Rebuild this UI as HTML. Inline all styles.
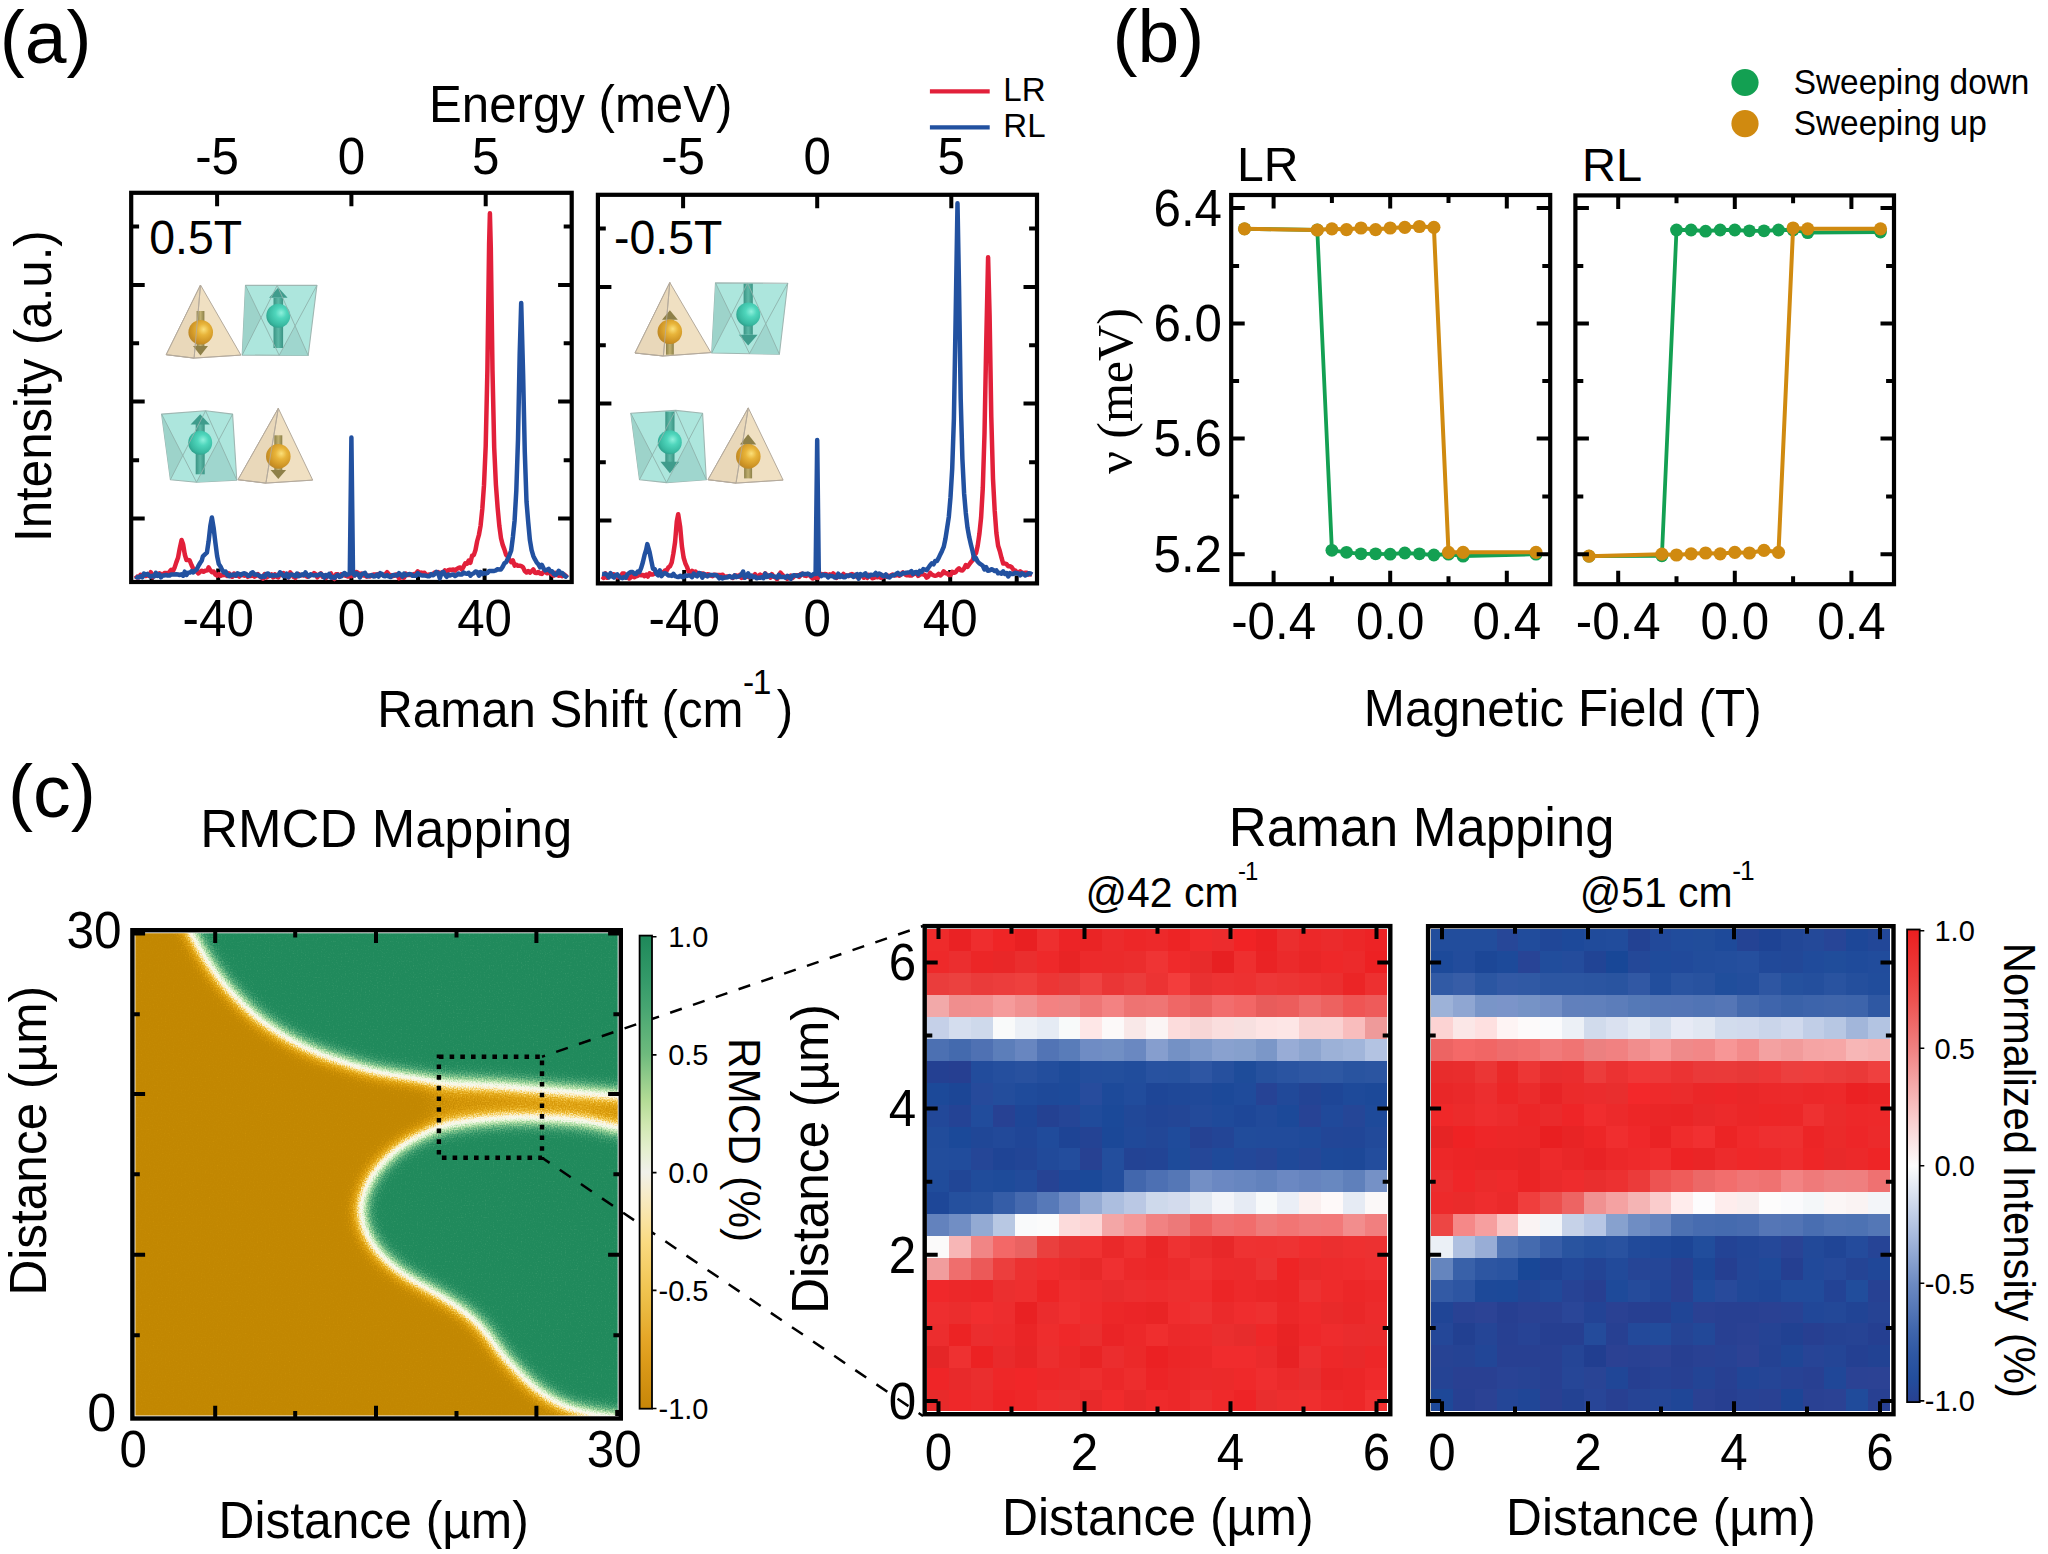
<!DOCTYPE html><html><head><meta charset="utf-8"><title>Figure</title>
<style>html,body{margin:0;padding:0;background:#fff;}svg{display:block;}text{font-family:"Liberation Sans", Arial, sans-serif;fill:#000;}</style></head><body>
<svg width="2048" height="1554" viewBox="0 0 2048 1554">
<rect width="2048" height="1554" fill="#fff"/>
<defs>
<radialGradient id="gGold" cx="0.6" cy="0.4" r="0.65" fx="0.62" fy="0.38"><stop offset="0" stop-color="#fbe07a"/><stop offset="0.35" stop-color="#e8b43a"/><stop offset="0.8" stop-color="#cc9224"/><stop offset="1" stop-color="#b8862a"/></radialGradient>
<radialGradient id="gTeal" cx="0.6" cy="0.4" r="0.65" fx="0.62" fy="0.38"><stop offset="0" stop-color="#8ef0dc"/><stop offset="0.35" stop-color="#4fd6bc"/><stop offset="0.8" stop-color="#38b8a0"/><stop offset="1" stop-color="#2e9e8a"/></radialGradient>
<linearGradient id="gShaftG" x1="0" y1="0" x2="1" y2="0"><stop offset="0" stop-color="#8c8048"/><stop offset="0.5" stop-color="#c0b070"/><stop offset="1" stop-color="#8c8048"/></linearGradient>
<linearGradient id="gShaftT" x1="0" y1="0" x2="1" y2="0"><stop offset="0" stop-color="#3a9484"/><stop offset="0.5" stop-color="#5cb8a6"/><stop offset="1" stop-color="#3a9484"/></linearGradient>
<linearGradient id="cbRMCD" x1="0" y1="0" x2="0" y2="1"><stop offset="0.000" stop-color="#1e885a"/><stop offset="0.050" stop-color="#2a9262"/><stop offset="0.100" stop-color="#369b6a"/><stop offset="0.150" stop-color="#46a571"/><stop offset="0.200" stop-color="#5ab077"/><stop offset="0.250" stop-color="#6eba7d"/><stop offset="0.300" stop-color="#91cb8a"/><stop offset="0.350" stop-color="#b4dc96"/><stop offset="0.400" stop-color="#d0e8b1"/><stop offset="0.450" stop-color="#e4efcd"/><stop offset="0.500" stop-color="#f0f0ea"/><stop offset="0.550" stop-color="#f7ebc6"/><stop offset="0.600" stop-color="#fae3a3"/><stop offset="0.650" stop-color="#fada80"/><stop offset="0.700" stop-color="#f5cf68"/><stop offset="0.750" stop-color="#f0c450"/><stop offset="0.800" stop-color="#eab63c"/><stop offset="0.850" stop-color="#e5a728"/><stop offset="0.900" stop-color="#dc9b1a"/><stop offset="0.950" stop-color="#d19011"/><stop offset="1.000" stop-color="#c68608"/></linearGradient>
<linearGradient id="cbRaman" x1="0" y1="0" x2="0" y2="1"><stop offset="0.000" stop-color="#ec1e20"/><stop offset="0.050" stop-color="#ec2e2e"/><stop offset="0.100" stop-color="#ec3e3d"/><stop offset="0.150" stop-color="#ed5250"/><stop offset="0.200" stop-color="#ee6968"/><stop offset="0.250" stop-color="#f08080"/><stop offset="0.300" stop-color="#f39a9a"/><stop offset="0.350" stop-color="#f6b3b3"/><stop offset="0.400" stop-color="#f9cccc"/><stop offset="0.450" stop-color="#fae4e4"/><stop offset="0.500" stop-color="#fcfcfc"/><stop offset="0.550" stop-color="#dfe6f2"/><stop offset="0.600" stop-color="#c2cfe7"/><stop offset="0.650" stop-color="#a6b8dc"/><stop offset="0.700" stop-color="#89a1cf"/><stop offset="0.750" stop-color="#6c8ac2"/><stop offset="0.800" stop-color="#5678b7"/><stop offset="0.850" stop-color="#3f65ac"/><stop offset="0.900" stop-color="#2e57a3"/><stop offset="0.950" stop-color="#234e9d"/><stop offset="1.000" stop-color="#284092"/></linearGradient>
<filter id="fRMCD" x="0" y="0" width="1" height="1" filterUnits="objectBoundingBox" color-interpolation-filters="sRGB"><feGaussianBlur in="SourceGraphic" stdDeviation="10" result="bl"/><feTurbulence type="fractalNoise" baseFrequency="0.75" numOctaves="1" seed="3" result="nz"/><feColorMatrix in="nz" type="matrix" values="1 0 0 0 0  1 0 0 0 0  1 0 0 0 0  0 0 0 0 1" result="nzr"/><feComposite in="bl" in2="nzr" operator="arithmetic" k1="0" k2="1" k3="0.3" k4="-0.15" result="mix"/><feComponentTransfer in="mix"><feFuncR type="table" tableValues="0.7608 0.7660 0.7713 0.7898 0.8126 0.8342 0.8546 0.8750 0.8954 0.9186 0.9431 0.9602 0.9733 0.9782 0.9804 0.9804 0.9725 0.9627 0.9137 0.8618 0.7882 0.7147 0.6358 0.5561 0.4804 0.4130 0.3456 0.2922 0.2431 0.1974 0.1647 0.1377 0.1255"/><feFuncG type="table" tableValues="0.5333 0.5368 0.5403 0.5545 0.5720 0.5910 0.6114 0.6368 0.6654 0.7078 0.7569 0.8133 0.8698 0.9139 0.9457 0.9677 0.9725 0.9759 0.9616 0.9452 0.9137 0.8822 0.8407 0.7978 0.7559 0.7161 0.6762 0.6434 0.6127 0.5842 0.5637 0.5473 0.5412"/><feFuncB type="table" tableValues="0.0078 0.0096 0.0113 0.0171 0.0241 0.0349 0.0492 0.0745 0.1072 0.1760 0.2618 0.4016 0.5569 0.7039 0.8180 0.9063 0.9176 0.9230 0.8618 0.8003 0.7373 0.6742 0.6262 0.5803 0.5402 0.5126 0.4850 0.4575 0.4299 0.4042 0.3858 0.3700 0.3608"/><feFuncA type="linear" slope="0" intercept="1"/></feComponentTransfer></filter>
<clipPath id="cpRMCD"><rect x="135.4" y="933.2" width="482.3" height="482.2"/></clipPath>
</defs>
<text transform="translate(-0.3 62.7) scale(1 0.980)" font-size="75.1">(a)</text>
<g stroke="#b4aa9c" stroke-width="1" stroke-linejoin="round">
<polygon points="200.5,285 166.2,354.7 194.1,358.1 240.9,355.1" fill="#f0e0c2"/>
<polygon points="200.5,285 166.2,354.7 194.1,358.1" fill="#e6d4b6" fill-opacity="0.7"/>
</g>
<rect x="196.6" y="311" width="7.8" height="35" fill="url(#gShaftG)"/>
<polygon points="193,346 208,346 200.5,355.5" fill="#8e8048"/>
<circle cx="200.7" cy="332.3" r="12.3" fill="url(#gGold)"/>
<path d="M200.5 285L194.1 358.1M166.2 354.7L194.1 358.1L240.9 355.1" stroke="#b4aa9c" stroke-width="1" fill="none" opacity="0.8"/>
<g stroke="#9fb7b2" stroke-width="1.1" stroke-linejoin="round">
<polygon points="245.5,285.4 316.9,285.4 308.2,355.5 242.2,355.1" fill="#ade6dd"/>
<polygon points="245.5,285.4 261,317.6 242.2,355.1" fill="#9dd3ca" stroke="none"/>
</g>
<polygon points="308.2,355.5 295.1,325.8 279.2,355.3" fill="#9fd6ce"/>
<rect x="273.5" y="298" width="9.6" height="50" fill="url(#gShaftT)"/>
<polygon points="269.1,297.8 287.6,297.8 278.3,287.6" fill="#3f9c8c"/>
<circle cx="278.3" cy="315.7" r="12" fill="url(#gTeal)"/>
<path d="M245.5 285.4L279.2 355.3M316.9 285.4L279.2 355.3M242.2 355.1L277.2 285.4M308.2 355.5L277.2 285.4" stroke="#8fb2ac" stroke-width="1" fill="none" opacity="0.9"/>
<g stroke="#9fb7b2" stroke-width="1.1" stroke-linejoin="round">
<polygon points="161.6,414.1 205.6,410.8 232.6,414.1 236.8,480.1 196.5,482.2 170.4,479.7" fill="#ade6dd"/>
<polygon points="161.6,414.1 182.8,455.4 170.4,479.7" fill="#9dd3ca" stroke="none"/>
</g>
<polygon points="236.8,480.1 218.8,440.1 196.5,482.2" fill="#9fd6ce"/>
<rect x="195.7" y="424" width="9" height="50.3" fill="url(#gShaftT)"/>
<polygon points="190.6,424.5 209.8,424.5 200.2,414.2" fill="#3f9c8c"/>
<circle cx="200.2" cy="442.7" r="12" fill="url(#gTeal)"/>
<path d="M161.6 414.1L196.5 482.2M232.6 414.1L196.5 482.2M170.4 479.7L205.6 410.8M236.8 480.1L205.6 410.8" stroke="#8fb2ac" stroke-width="1" fill="none" opacity="0.9"/>
<g stroke="#b4aa9c" stroke-width="1" stroke-linejoin="round">
<polygon points="278.3,408.3 238,479.7 265.9,483.1 312.7,480.1" fill="#f0e0c2"/>
<polygon points="278.3,408.3 238,479.7 265.9,483.1" fill="#e6d4b6" fill-opacity="0.7"/>
</g>
<rect x="274.3" y="435.3" width="8" height="34.8" fill="url(#gShaftG)"/>
<polygon points="270.6,470.1 286.1,470.1 278.3,479" fill="#8e8048"/>
<circle cx="278.3" cy="456.4" r="12.3" fill="url(#gGold)"/>
<path d="M278.3 408.3L265.9 483.1M238 479.7L265.9 483.1L312.7 480.1" stroke="#b4aa9c" stroke-width="1" fill="none" opacity="0.8"/>
<g stroke="#b4aa9c" stroke-width="1" stroke-linejoin="round">
<polygon points="669.8,282.5 635,353 663.4,356 710.9,352.6" fill="#f0e0c2"/>
<polygon points="669.8,282.5 635,353 663.4,356" fill="#e6d4b6" fill-opacity="0.7"/>
</g>
<rect x="666" y="319.8" width="7.8" height="34.9" fill="url(#gShaftG)"/>
<polygon points="662,319.8 677.8,319.8 669.9,310.2" fill="#8e8048"/>
<circle cx="669.8" cy="331.8" r="12.3" fill="url(#gGold)"/>
<path d="M669.8 282.5L663.4 356M635 353L663.4 356L710.9 352.6" stroke="#b4aa9c" stroke-width="1" fill="none" opacity="0.8"/>
<g stroke="#9fb7b2" stroke-width="1.1" stroke-linejoin="round">
<polygon points="715.5,282.9 787.7,283.3 779.4,354.3 711.7,353" fill="#ade6dd"/>
<polygon points="715.5,282.9 731.1,315.3 711.7,353" fill="#9dd3ca" stroke="none"/>
</g>
<polygon points="779.4,354.3 765.8,323.8 749.5,353.6" fill="#9fd6ce"/>
<rect x="743.6" y="283.7" width="9.2" height="51" fill="url(#gShaftT)"/>
<polygon points="738.9,334.7 757.6,334.7 748.2,345.6" fill="#3f9c8c"/>
<circle cx="748.3" cy="314.4" r="12" fill="url(#gTeal)"/>
<path d="M715.5 282.9L749.5 353.6M787.7 283.3L749.5 353.6M711.7 353L747.6 283.1M779.4 354.3L747.6 283.1" stroke="#8fb2ac" stroke-width="1" fill="none" opacity="0.9"/>
<g stroke="#9fb7b2" stroke-width="1.1" stroke-linejoin="round">
<polygon points="630.8,413.3 675.6,410.4 702.6,413.3 706.3,479.7 666.5,482.6 639.5,479.7" fill="#ade6dd"/>
<polygon points="630.8,413.3 652.3,455.1 639.5,479.7" fill="#9dd3ca" stroke="none"/>
</g>
<polygon points="706.3,479.7 688.7,440 666.5,482.6" fill="#9fd6ce"/>
<rect x="665.3" y="411.6" width="9.2" height="50.7" fill="url(#gShaftT)"/>
<polygon points="660.5,461.8 679.2,461.8 669.9,473.2" fill="#3f9c8c"/>
<circle cx="669.8" cy="442.3" r="12" fill="url(#gTeal)"/>
<path d="M630.8 413.3L666.5 482.6M702.6 413.3L666.5 482.6M639.5 479.7L675.6 410.4M706.3 479.7L675.6 410.4" stroke="#8fb2ac" stroke-width="1" fill="none" opacity="0.9"/>
<g stroke="#b4aa9c" stroke-width="1" stroke-linejoin="round">
<polygon points="748.3,407.9 708,479.7 736,483.1 783.1,480.1" fill="#f0e0c2"/>
<polygon points="748.3,407.9 708,479.7 736,483.1" fill="#e6d4b6" fill-opacity="0.7"/>
</g>
<rect x="744.1" y="444.4" width="8" height="34" fill="url(#gShaftG)"/>
<polygon points="740,444.4 756.2,444.4 748.1,434.3" fill="#8e8048"/>
<circle cx="748.3" cy="456.4" r="12.3" fill="url(#gGold)"/>
<path d="M748.3 407.9L736 483.1M708 479.7L736 483.1L783.1 480.1" stroke="#b4aa9c" stroke-width="1" fill="none" opacity="0.8"/>
<rect x="131.2" y="192.8" width="440.5" height="389.2" fill="none" stroke="#000" stroke-width="4.2"/>
<path d="M218.2 582V568.5M351.4 582V568.5M484.6 582V568.5M151.6 582V574.1M284.8 582V574.1M418 582V574.1M551.2 582V574.1M131.2 285H144.7M571.6 285H558.1M131.2 401.6H144.7M571.6 401.6H558.1M131.2 518.4H144.7M571.6 518.4H558.1M131.2 226.5H139.1M571.6 226.5H563.7M131.2 343.2H139.1M571.6 343.2H563.7M131.2 460.3H139.1M571.6 460.3H563.7" stroke="#000" stroke-width="4.0" fill="none"/>
<path d="M217.1 192.8V206.3M351.4 192.8V206.3M485.7 192.8V206.3" stroke="#000" stroke-width="4.0" fill="none"/>
<text transform="translate(218.2 636.2) scale(1 1.041)" font-size="49.3" text-anchor="middle">-40</text>
<text transform="translate(351.4 636.2) scale(1 1.041)" font-size="49.3" text-anchor="middle">0</text>
<text transform="translate(484.6 636.2) scale(1 1.041)" font-size="49.3" text-anchor="middle">40</text>
<text transform="translate(217.1 174.3) scale(1 1.041)" font-size="49.3" text-anchor="middle">-5</text>
<text transform="translate(351.4 174.3) scale(1 1.041)" font-size="49.3" text-anchor="middle">0</text>
<text transform="translate(485.7 174.3) scale(1 1.041)" font-size="49.3" text-anchor="middle">5</text>
<rect x="597.9" y="194.8" width="439.1" height="388.6" fill="none" stroke="#000" stroke-width="4.2"/>
<path d="M684.2 583.4V569.9M817.2 583.4V569.9M950.2 583.4V569.9M617.7 583.4V575.5M750.7 583.4V575.5M883.7 583.4V575.5M1016.7 583.4V575.5M597.9 287H611.4M1037 287H1023.5M597.9 403.6H611.4M1037 403.6H1023.5M597.9 520.4H611.4M1037 520.4H1023.5M597.9 228.5H605.8M1037 228.5H1029.1M597.9 345.2H605.8M1037 345.2H1029.1M597.9 462.3H605.8M1037 462.3H1029.1" stroke="#000" stroke-width="4.0" fill="none"/>
<path d="M683.1 194.8V208.3M817.2 194.8V208.3M951.3 194.8V208.3" stroke="#000" stroke-width="4.0" fill="none"/>
<text transform="translate(684.2 636.2) scale(1 1.041)" font-size="49.3" text-anchor="middle">-40</text>
<text transform="translate(817.2 636.2) scale(1 1.041)" font-size="49.3" text-anchor="middle">0</text>
<text transform="translate(950.2 636.2) scale(1 1.041)" font-size="49.3" text-anchor="middle">40</text>
<text transform="translate(683.1 174.3) scale(1 1.041)" font-size="49.3" text-anchor="middle">-5</text>
<text transform="translate(817.2 174.3) scale(1 1.041)" font-size="49.3" text-anchor="middle">0</text>
<text transform="translate(951.3 174.3) scale(1 1.041)" font-size="49.3" text-anchor="middle">5</text>
<path d="M135.5 575.4 137.2 577.5 138.9 577.4 140.6 574.7 142.3 575.5 144 574.7 145.7 576 147.4 575 149.1 575.9 150.8 572.2 152.5 577.2 154.2 574.5 155.9 575.6 157.6 574.5 159.3 573.3 161 574.1 162.7 574.7 164.4 573.1 166.1 573 167.8 574.1 169.5 571.7 171.2 569.8 172.9 571.2 174.6 567.6 176.3 562.4 178 557.8 179.7 548.7 181.6 540 183.1 544.2 184.8 554.5 186.5 560.1 188.2 560.1 189.6 560.2 191.6 565.3 193.3 568.8 195 569.7 196.7 571.6 198.4 573.4 200.1 571.8 201.8 570.7 203.5 571.7 205.2 570.7 207.5 570.3 208.6 567.4 210.3 570.3 212 572.3 213.7 571.6 215.4 574.6 217.1 575.7 218.8 574.1 220.5 575.8 222.2 575.2 223.9 575.1 225.6 574.9 227.3 576 229 573.3 230.7 576.2 232.4 576.8 234.1 573.5 235.8 575.8 237.5 575.1 239.2 576.5 240.9 574.4 242.6 575.2 244.3 575.7 246 574.1 247.7 576.8 249.4 575.9 251.1 576 252.8 574.8 254.5 576.7 256.2 575.6 257.9 574.2 259.6 576.4 261.3 577.5 263 578.7 264.7 574 266.4 577.4 268.1 576.5 269.8 575.8 271.5 574.5 273.2 577.4 274.9 574.3 276.6 576.7 278.3 577.4 280 573.2 281.7 574.9 283.4 573.1 285.1 574.4 286.8 576.4 288.5 577.4 290.2 572.4 291.9 574.4 293.6 576.9 295.3 577.9 297 575.6 298.7 574.1 300.4 575.3 302.1 575.2 303.8 575.3 305.5 575.5 307.2 576.8 308.9 576 310.6 575.2 312.3 574.6 314 573.1 315.7 574.4 317.4 577.3 319.1 574.9 320.8 573.3 322.5 576.7 324.2 575.7 325.9 577.9 327.6 575.5 329.3 574.7 331 573.5 332.7 577.3 334.4 579 336.1 574.3 337.8 574.3 339.5 576.4 341.2 574.3 342.9 575.2 344.6 575.3 346.3 576 348 576.6 349.7 575.2 351.4 576.2 353.1 574.5 354.8 575.3 356.5 572 358.2 572.9 359.9 576.2 361.6 573.6 363.3 575.6 365 575.6 366.7 576.7 368.4 575.5 370.1 576.4 371.8 575.2 373.5 574.6 375.2 574.5 376.9 575 378.6 573.9 380.3 574.4 382 574.9 383.7 575 385.4 574.1 387.1 572.1 388.8 574.6 390.5 575 392.2 576.2 393.9 575.9 395.6 574.5 397.3 574.5 399 578.3 400.7 576.7 402.4 577.6 404.1 577.7 405.8 573.6 407.5 575.1 409.2 574.8 410.9 575 412.6 574.7 414.3 574 416 573.6 417.7 571.3 419.4 573.1 421.1 572.5 422.8 573.2 424.5 572.8 426.2 575 427.9 574.8 429.6 574.5 431.3 574.6 433 573.9 434.7 572.5 436.4 572.7 438.1 572 439.8 573.3 441.5 572.6 443.2 573.1 444.9 570.3 446.6 572.6 448.3 570.2 450 569.7 451.7 570 453.4 569.5 455.1 570.6 456.8 568.9 458.5 568 460.2 567.5 461.9 569.6 463.6 566.6 465.3 563.3 467 563.8 468.7 560.5 470.4 562.8 472.1 555.7 473.8 555.1 475.5 550 477.2 541 478.9 535 480.6 525.6 482.3 509 484 485.2 485.7 446.2 487.4 369.6 489.1 244.6 489.9 213.3 490.8 247.9 492.5 370.6 494.2 447.6 495.9 484.6 497.6 507.4 499.3 525.6 501 538.2 502.7 544.9 504.4 549.4 506.1 554.9 507.8 556.5 509.5 559.8 511.2 562 512.9 560.5 514.6 565.6 516.3 564.7 518 565.8 519.7 565.7 521.4 566.2 523.1 567.4 524.8 571.1 526.5 572.5 528.2 571 529.9 572.6 531.6 571.3 533.3 569.4 535 572.7 536.7 573.1 538.4 572 540.1 573.5 541.8 573.9 543.5 572 545.2 571.5 546.9 573.3 548.6 573 550.3 572.5 552 574.6 553.7 575.7 555.4 572.9 557.1 574.9 558.8 575.7 560.5 575.4 562.2 576.1 563.9 574.3 565.6 575.7 567.3 577.3" fill="none" stroke="#e2203a" stroke-width="4.5" stroke-linejoin="round"/>
<path d="M135.5 576.3 137.2 577.5 138.9 577.2 140.6 576.3 142.3 577.4 144 573.5 145.7 574.8 147.4 573.9 149.1 575.5 150.8 576.8 152.5 575.7 154.2 576.4 155.9 572.8 157.6 575.8 159.3 574.3 161 577.4 162.7 575.4 164.4 575.4 166.1 574.9 167.8 575.6 169.5 575.6 171.2 574.4 172.9 574.4 174.6 574.5 176.3 574.2 178 574.5 179.7 575 181.4 574.3 183.1 575.7 184.8 571.7 186.5 575 188.2 572.7 189.9 572.6 191.6 571.1 193.3 572.4 195 570.7 196.7 569.5 198.4 565.9 200.1 563 201.8 560.5 202.9 556.3 205.2 554.1 206.9 552.6 208.6 541.4 210.3 526.2 211.9 517.5 213.7 528.4 215.4 542.8 217.1 556 218.8 564 220.5 566.5 222.2 570.1 223.9 572.4 225.6 571.6 227.3 574.9 229 576.1 230.7 574.8 232.4 575.2 234.1 574.6 235.8 575.7 237.5 573.4 239.2 574.1 240.9 575.1 242.6 573.6 244.3 573.3 246 574.1 247.7 575.7 249.4 575.8 251.1 573.3 252.8 572.3 254.5 574.5 256.2 574.5 257.9 574.9 259.6 576 261.3 577.2 263 575.8 264.7 576.7 266.4 574 268.1 573.5 269.8 575.7 271.5 575.5 273.2 575.3 274.9 575.4 276.6 575.6 278.3 575.3 280 572.3 281.7 574.1 283.4 576 285.1 576.3 286.8 573.6 288.5 577.3 290.2 574.8 291.9 574.6 293.6 575.2 295.3 576.2 297 573.5 298.7 576.2 300.4 575.4 302.1 574.3 303.8 575.1 305.5 572.3 307.2 575.1 308.9 576.4 310.6 574.4 312.3 575.1 314 575.4 315.7 575.1 317.4 575.4 319.1 574.7 320.8 573.8 322.5 575.1 324.2 577.6 325.9 575 327.6 576.3 329.3 573.8 331 577.6 332.7 576.9 334.4 577.9 336.1 576 337.8 574.8 339.5 576.9 341.2 576.4 342.9 574.1 344.6 573 346.3 575.1 348 574.4 349.8 573.5 351.4 437.5 353 573.5 354.8 575.4 356.5 573.3 358.2 574.2 359.9 577.5 361.6 574.5 363.3 573.6 365 572.9 366.7 575.8 368.4 576.2 370.1 575.5 371.8 575.1 373.5 576.4 375.2 576.2 376.9 574.6 378.6 576.6 380.3 573.2 382 574.1 383.7 576 385.4 576.3 387.1 575 388.8 576.5 390.5 577.1 392.2 575.5 393.9 575 395.6 575.4 397.3 575.4 399 573.2 400.7 574.7 402.4 576.5 404.1 573.6 405.8 575.3 407.5 574.7 409.2 574.1 410.9 574.2 412.6 575.7 414.3 575.7 416 575.7 417.7 573.2 419.4 574.6 421.1 575.2 422.8 575.6 424.5 575.6 426.2 575.7 427.9 576.3 429.6 576.2 431.3 574.1 433 575.3 434.7 574.2 436.4 571.9 438.1 573 439.8 578.2 441.5 573.3 443.2 571.8 444.9 574.4 446.6 576.8 448.3 574.5 450 575.5 451.7 574.7 453.4 574.4 455.1 576 456.8 575.1 458.5 573.5 460.2 574.6 461.9 574.4 463.6 572.6 465.3 573.5 467 573.7 468.7 572.8 470.4 575.7 472.1 574 473.8 573.2 475.5 571.5 477.2 571.9 478.9 575.7 480.6 572 482.3 574.2 484 573 485.7 573.6 487.4 573 489.1 571 490.8 571 492.5 571 494.2 571 495.9 570.4 497.6 569.2 499.3 569.6 501 569.4 502.7 566.7 504.4 563.2 506.1 562.3 507.8 558.8 509.5 555.1 511.2 550.4 512.9 537.1 514.6 520.5 516.3 490.9 518 439.5 519.7 353.6 521.2 302.9 523.1 374.1 524.8 452.4 526.5 501.5 528.2 522 529.9 540.2 531.6 550.1 533.3 555.9 535 559.4 536.7 562.4 538.4 564.3 540.1 567.3 541.8 564.8 543.5 568.3 545.2 570.4 546.9 569.9 548.6 568.8 550.3 571.4 552 571.2 553.7 573.8 555.4 575 557.1 573.5 558.8 570.8 560.5 573.4 562.2 572.9 563.9 575.1 565.6 576.7 567.3 574.9" fill="none" stroke="#2251a0" stroke-width="4.5" stroke-linejoin="round"/>
<path d="M602 576.5 603.7 577.9 605.4 573.4 607.1 577.8 608.8 575.5 610.5 574.5 612.2 574.6 613.9 574.3 615.6 575.7 617.3 577.2 619 576.9 620.7 577 622.4 573.6 624.1 573.6 625.8 577.6 627.5 576.9 629.2 578.5 630.9 577.4 632.6 574.4 634.3 577.2 636 576.3 637.7 575.8 639.4 574.3 641.1 575.2 642.8 574.9 644.5 576.2 646.2 574.6 647.9 576.5 649.6 573.3 651.3 574.6 653 574.5 654.7 573.2 656.4 572.5 658.1 574.5 659.8 574.2 661.5 572.7 663.2 572.9 664.9 570.5 666.6 570.8 668.3 567.6 670 566.2 671.7 562.6 673.4 553.4 675.1 541.9 676.8 521.4 678.2 514.3 680.2 527.2 681.9 546.1 683.6 557.5 685.3 563.2 687 566.9 688.7 571.5 690.4 573.1 692.1 570.9 693.8 574.9 695.5 571.5 697.2 573.3 698.9 574.1 700.6 574.5 702.3 573.6 704 573.8 705.7 575.1 707.4 574.2 709.1 574.5 710.8 575.7 712.5 576.2 714.2 574.6 715.9 574.9 717.6 575 719.3 574.9 721 575.2 722.7 574.7 724.4 577.5 726.1 576.6 727.8 576.4 729.5 576.4 731.2 577 732.9 578 734.6 575.5 736.3 575.4 738 576.7 739.7 575 741.4 577.9 743.1 577.5 744.8 577.1 746.5 575.7 748.2 576.9 749.9 577.2 751.6 576.7 753.3 576.1 755 574.2 756.7 577.7 758.4 575.8 760.1 574.6 761.8 576.3 763.5 575.7 765.2 573.4 766.9 575.4 768.6 575.6 770.3 577.7 772 574.2 773.7 576.7 775.4 577.4 777.1 579.2 778.8 575.5 780.5 572.6 782.2 574.6 783.9 576.5 785.6 577.3 787.3 578.9 789 577.4 790.7 575.7 792.4 577.9 794.1 576.5 795.8 575.2 797.5 575.2 799.2 576.9 800.9 573.9 802.6 573.7 804.3 575.5 806 575.9 807.7 575 809.4 575 811.1 576.9 812.8 578.5 814.5 577.5 816.2 577.5 817.9 578 819.6 573.8 821.3 574 823 574.7 824.7 574 826.4 574.3 828.1 575.6 829.8 574.3 831.5 575.5 833.2 573.4 834.9 574.9 836.6 577.8 838.3 574.9 840 576 841.7 575.9 843.4 574 845.1 575.6 846.8 575.5 848.5 576.1 850.2 574.7 851.9 574.1 853.6 574.8 855.3 575 857 577 858.7 576.3 860.4 575.3 862.1 575.8 863.8 577.7 865.5 575.3 867.2 577.8 868.9 574.9 870.6 576 872.3 578.2 874 577.9 875.7 576.3 877.4 577.3 879.1 576.2 880.8 577.7 882.5 577.3 884.2 575.5 885.9 576.8 887.6 575.6 889.3 576.3 891 575.4 892.7 574.6 894.4 575.5 896.1 575.3 897.8 574.7 899.5 575.7 901.2 573.9 902.9 572.4 904.6 573.9 906.3 575.2 908 575.1 909.7 575.5 911.4 575.6 913.1 574.3 914.8 573.8 916.5 572.7 918.2 575.8 919.9 574.6 921.6 573.8 923.3 574.4 925 575.1 926.7 577.7 928.4 576.4 930.1 572.8 931.8 574.5 933.5 575.3 935.2 575.8 936.9 575.4 938.6 573.8 940.3 575.5 942 574 943.7 571.3 945.4 573.2 947.1 573.2 948.8 575.1 950.5 575.1 952.2 571.8 953.9 572.7 955.6 572.3 957.3 569.7 959 568.4 960.7 570.2 962.4 570.4 964.1 568.5 965.8 565.1 967.5 566.8 969.2 564.5 970.9 562.1 972.6 560.3 974.3 555.3 976 553.2 977.7 545.7 979.4 533.9 981.1 517.6 982.8 488 984.5 434 986.2 344.5 988.1 257.3 989.6 315.9 991.3 417.4 993 478.9 994.7 510.7 996.4 533.1 998.1 545.7 999.8 551 1001.5 557.7 1003.2 563.6 1004.9 563.5 1006.6 564.2 1008.3 566.2 1010 566.3 1011.7 567.3 1013.4 569.8 1015.1 570.3 1016.8 572 1018.5 572.7 1020.2 571.4 1021.9 572.6 1023.6 573.1 1025.3 572.8 1027 572.8 1028.7 574.5 1030.4 574.1 1032.1 574.5" fill="none" stroke="#e2203a" stroke-width="4.5" stroke-linejoin="round"/>
<path d="M602 573.9 603.7 574.1 605.4 573.7 607.1 575 608.8 577.4 610.5 573.1 612.2 576.3 613.9 577.5 615.6 575 617.3 574.4 619 576.4 620.7 577.7 622.4 578.2 624.1 576.9 625.8 577.6 627.5 574.3 629.2 573 630.9 572 632.6 572.1 634.3 573.7 636 574 637.7 571.5 639.4 572.2 641.1 568.2 642.8 562.5 644.5 555.2 646.2 549.6 647.3 544.1 649.6 552.2 651.3 560.6 653 568.9 654.7 568.9 656.4 573.8 658.1 575.3 659.8 570.4 661.5 576.1 663.2 574 664.9 573.1 666.6 573.8 668.3 575.5 670 575.4 671.7 575.9 673.4 573.8 675.1 576.2 676.8 576.7 678.5 577.1 680.2 575.7 681.9 576.9 683.6 577.1 685.3 575.4 687 575.9 688.7 575.4 690.4 575.8 692.1 577.1 693.8 573.6 695.5 575.3 697.2 576.4 698.9 573 700.6 573.5 702.3 577.7 704 574.2 705.7 575.3 707.4 576.4 709.1 575.2 710.8 574.9 712.5 575.1 714.2 575.3 715.9 574.9 717.6 576.2 719.3 578.3 721 577 722.7 578.5 724.4 577.3 726.1 577.6 727.8 577.2 729.5 576 731.2 577.2 732.9 577.5 734.6 575.4 736.3 577.2 738 576.7 739.7 576.2 741.4 574.6 743.1 571.5 744.8 577.8 746.5 575.8 748.2 573.4 749.9 577 751.6 575.6 753.3 577.2 755 576.6 756.7 578.3 758.4 577.7 760.1 577.7 761.8 577.3 763.5 578.2 765.2 573.6 766.9 576.9 768.6 576.3 770.3 575 772 575.7 773.7 576.5 775.4 576.7 777.1 577.8 778.8 574.9 780.5 577 782.2 576.9 783.9 576.9 785.6 577.7 787.3 575.8 789 577.3 790.7 578.9 792.4 575.6 794.1 575.2 795.8 575.6 797.5 576 799.2 575.1 800.9 575.3 802.6 573.5 804.3 574.2 806 574.1 807.7 573.6 809.4 574.4 811.1 575.9 812.8 574.7 814.5 573.5 815.6 574 817.2 440 818.8 574 819.6 574.4 821.3 576.1 823 574.6 824.7 575.3 826.4 575.2 828.1 577.4 829.8 575.8 831.5 576 833.2 576.4 834.9 577.5 836.6 577.3 838.3 573.7 840 577 841.7 575.6 843.4 577.2 845.1 577.3 846.8 575.4 848.5 575.9 850.2 575.2 851.9 575.6 853.6 576.9 855.3 575.2 857 574.2 858.7 578.7 860.4 574 862.1 575.5 863.8 574.8 865.5 573.3 867.2 576.1 868.9 576.5 870.6 574.7 872.3 575 874 574.8 875.7 573 877.4 575.3 879.1 573.5 880.8 574.3 882.5 575.7 884.2 576.3 885.9 574.4 887.6 576.9 889.3 577.5 891 576 892.7 575.2 894.4 575.2 896.1 574 897.8 572.9 899.5 574.5 901.2 574.5 902.9 573.1 904.6 573.3 906.3 572.7 908 572.6 909.7 572.3 911.4 571.1 913.1 574.1 914.8 572.2 916.5 572.1 918.2 574.2 919.9 570.9 921.6 571.9 923.3 569.1 925 569.6 926.7 570.1 928.4 567.7 930.1 565.2 931.8 563.4 933.5 564.4 935.2 560.9 936.9 561.1 938.6 558.2 940.3 554.4 942 550.9 943.7 546.9 945.4 539.1 947.1 528.2 948.8 517 950.5 497.2 952.2 468.8 953.9 418.9 955.6 320.2 957.5 203.3 959 285.7 960.7 398.9 962.4 459.1 964.1 493.2 965.8 512.9 967.5 527.7 969.2 537.1 970.9 544.5 972.6 551.3 974.3 559 976 558.2 977.7 561.7 979.4 563.3 981.1 564.5 982.8 565.8 984.5 569.5 986.2 567.1 987.9 570.7 989.6 570.6 991.3 569.2 993 569.9 994.7 571 996.4 570.3 998.1 573.3 999.8 572.8 1001.5 573.7 1003.2 571.4 1004.9 574 1006.6 573 1008.3 576.5 1010 573.1 1011.7 573.9 1013.4 574 1015.1 572.7 1016.8 573.3 1018.5 573.4 1020.2 575.3 1021.9 573.2 1023.6 574 1025.3 575.4 1027 574.7 1028.7 573.2 1030.4 573.5 1032.1 574.6" fill="none" stroke="#2251a0" stroke-width="4.5" stroke-linejoin="round"/>
<text transform="translate(149.3 254) scale(1 1.041)" font-size="46.4">0.5T</text>
<text transform="translate(614.1 253.8) scale(1 1.041)" font-size="46.4">-0.5T</text>
<text transform="translate(429 121.8) scale(1 1.041)" font-size="49.2">Energy (meV)</text>
<text transform="translate(50.8 541.9) rotate(-90) scale(1 1.041)" font-size="49.2">Intensity (a.u.)</text>
<text transform="translate(377.3 726.5) scale(1 1.041)" font-size="49.2">Raman Shift (cm</text>
<text transform="translate(743 694) scale(1 1.041)" font-size="33.5" letter-spacing="-1.5">-1</text>
<text transform="translate(776.7 726.5) scale(1 1.041)" font-size="49.3">)</text>
<path d="M929.9 91.4H989.7" stroke="#e2203a" stroke-width="4.3"/>
<path d="M929.9 127.4H989.7" stroke="#2251a0" stroke-width="4.3"/>
<text transform="translate(1003.3 100.9)" font-size="33.1">LR</text>
<text transform="translate(1003.3 136.6)" font-size="33.1">RL</text>
<text transform="translate(1112.4 62.4) scale(1 0.980)" font-size="75.1">(b)</text>
<path d="M1244.5 228.8 1317.3 230 1331.9 550.3 1346.5 552.3 1361 553.8 1375.6 553.8 1390.2 554.2 1404.8 553 1419.4 553.8 1433.9 555 1448.5 554.2 1463.1 556.2 1536 554.2" fill="none" stroke="#13a052" stroke-width="3.8" stroke-linejoin="round"/>
<g fill="#13a052"><circle cx="1244.5" cy="228.8" r="6.4"/><circle cx="1317.3" cy="230" r="6.4"/><circle cx="1331.9" cy="550.3" r="6.4"/><circle cx="1346.5" cy="552.3" r="6.4"/><circle cx="1361" cy="553.8" r="6.4"/><circle cx="1375.6" cy="553.8" r="6.4"/><circle cx="1390.2" cy="554.2" r="6.4"/><circle cx="1404.8" cy="553" r="6.4"/><circle cx="1419.4" cy="553.8" r="6.4"/><circle cx="1433.9" cy="555" r="6.4"/><circle cx="1448.5" cy="554.2" r="6.4"/><circle cx="1463.1" cy="556.2" r="6.4"/><circle cx="1536" cy="554.2" r="6.4"/></g>
<path d="M1244.5 228.8 1317.3 230 1331.9 228.8 1346.5 229.6 1361 228 1375.6 229.6 1390.2 228 1404.8 227.3 1419.4 226.5 1433.9 227.3 1448.5 552.3 1463.1 552.3 1536 552.3" fill="none" stroke="#d08a10" stroke-width="4.0" stroke-linejoin="round"/>
<g fill="#d08a10"><circle cx="1244.5" cy="228.8" r="6.6"/><circle cx="1317.3" cy="230" r="6.6"/><circle cx="1331.9" cy="228.8" r="6.6"/><circle cx="1346.5" cy="229.6" r="6.6"/><circle cx="1361" cy="228" r="6.6"/><circle cx="1375.6" cy="229.6" r="6.6"/><circle cx="1390.2" cy="228" r="6.6"/><circle cx="1404.8" cy="227.3" r="6.6"/><circle cx="1419.4" cy="226.5" r="6.6"/><circle cx="1433.9" cy="227.3" r="6.6"/><circle cx="1448.5" cy="552.3" r="6.6"/><circle cx="1463.1" cy="552.3" r="6.6"/><circle cx="1536" cy="552.3" r="6.6"/></g>
<path d="M1589 556.2 1661.9 555.8 1676.5 230 1691.1 230 1705.6 231.2 1720.2 230 1734.8 230 1749.4 230.8 1764 230.8 1778.5 230 1793.1 230 1807.7 232.7 1880.5 232" fill="none" stroke="#13a052" stroke-width="3.8" stroke-linejoin="round"/>
<g fill="#13a052"><circle cx="1589" cy="556.2" r="6.4"/><circle cx="1661.9" cy="555.8" r="6.4"/><circle cx="1676.5" cy="230" r="6.4"/><circle cx="1691.1" cy="230" r="6.4"/><circle cx="1705.6" cy="231.2" r="6.4"/><circle cx="1720.2" cy="230" r="6.4"/><circle cx="1734.8" cy="230" r="6.4"/><circle cx="1749.4" cy="230.8" r="6.4"/><circle cx="1764" cy="230.8" r="6.4"/><circle cx="1778.5" cy="230" r="6.4"/><circle cx="1793.1" cy="230" r="6.4"/><circle cx="1807.7" cy="232.7" r="6.4"/><circle cx="1880.5" cy="232" r="6.4"/></g>
<path d="M1589 556.2 1661.9 554.2 1676.5 555 1691.1 553.8 1705.6 553 1720.2 553.8 1734.8 552.3 1749.4 553 1764 550.3 1778.5 552.3 1793.1 228 1807.7 228.8 1880.5 228.8" fill="none" stroke="#d08a10" stroke-width="4.0" stroke-linejoin="round"/>
<g fill="#d08a10"><circle cx="1589" cy="556.2" r="6.6"/><circle cx="1661.9" cy="554.2" r="6.6"/><circle cx="1676.5" cy="555" r="6.6"/><circle cx="1691.1" cy="553.8" r="6.6"/><circle cx="1705.6" cy="553" r="6.6"/><circle cx="1720.2" cy="553.8" r="6.6"/><circle cx="1734.8" cy="552.3" r="6.6"/><circle cx="1749.4" cy="553" r="6.6"/><circle cx="1764" cy="550.3" r="6.6"/><circle cx="1778.5" cy="552.3" r="6.6"/><circle cx="1793.1" cy="228" r="6.6"/><circle cx="1807.7" cy="228.8" r="6.6"/><circle cx="1880.5" cy="228.8" r="6.6"/></g>
<rect x="1231.2" y="195" width="319" height="389.2" fill="none" stroke="#000" stroke-width="4.2"/>
<path d="M1273.6 584.2V570.7M1273.6 195V208.5M1390.2 584.2V570.7M1390.2 195V208.5M1506.8 584.2V570.7M1506.8 195V208.5M1331.9 584.2V576.3M1331.9 195V202.9M1448.5 584.2V576.3M1448.5 195V202.9M1231.2 208.1H1244.7M1550.2 208.1H1536.7M1231.2 323.4H1244.7M1550.2 323.4H1536.7M1231.2 438.6H1244.7M1550.2 438.6H1536.7M1231.2 554.2H1244.7M1550.2 554.2H1536.7M1231.2 265.9H1239.1M1550.2 265.9H1542.3M1231.2 381H1239.1M1550.2 381H1542.3M1231.2 496.6H1239.1M1550.2 496.6H1542.3" stroke="#000" stroke-width="4.0" fill="none"/>
<text transform="translate(1273.6 639.3) scale(1 1.041)" font-size="49.3" text-anchor="middle">-0.4</text>
<text transform="translate(1390.2 639.3) scale(1 1.041)" font-size="49.3" text-anchor="middle">0.0</text>
<text transform="translate(1506.8 639.3) scale(1 1.041)" font-size="49.3" text-anchor="middle">0.4</text>
<rect x="1575.4" y="195.4" width="318.6" height="388.8" fill="none" stroke="#000" stroke-width="4.2"/>
<path d="M1618.2 584.2V570.7M1618.2 195.4V208.9M1734.8 584.2V570.7M1734.8 195.4V208.9M1851.4 584.2V570.7M1851.4 195.4V208.9M1676.5 584.2V576.3M1676.5 195.4V203.3M1793.1 584.2V576.3M1793.1 195.4V203.3M1575.4 208.1H1588.9M1894 208.1H1880.5M1575.4 323.4H1588.9M1894 323.4H1880.5M1575.4 438.6H1588.9M1894 438.6H1880.5M1575.4 554.2H1588.9M1894 554.2H1880.5M1575.4 265.9H1583.3M1894 265.9H1886.1M1575.4 381H1583.3M1894 381H1886.1M1575.4 496.6H1583.3M1894 496.6H1886.1" stroke="#000" stroke-width="4.0" fill="none"/>
<text transform="translate(1618.2 639.3) scale(1 1.041)" font-size="49.3" text-anchor="middle">-0.4</text>
<text transform="translate(1734.8 639.3) scale(1 1.041)" font-size="49.3" text-anchor="middle">0.0</text>
<text transform="translate(1851.4 639.3) scale(1 1.041)" font-size="49.3" text-anchor="middle">0.4</text>
<text transform="translate(1222 225.8) scale(1 1.041)" font-size="49.3" text-anchor="end">6.4</text>
<text transform="translate(1222 341.1) scale(1 1.041)" font-size="49.3" text-anchor="end">6.0</text>
<text transform="translate(1222 456.3) scale(1 1.041)" font-size="49.3" text-anchor="end">5.6</text>
<text transform="translate(1222 571.9) scale(1 1.041)" font-size="49.3" text-anchor="end">5.2</text>
<text transform="translate(1237.1 180.8)" font-size="48.1">LR</text>
<text transform="translate(1582 180.8)" font-size="47">RL</text>
<text transform="translate(1131.7 391) rotate(-90)" font-size="50" text-anchor="middle" style='font-family:"Liberation Serif", "Times New Roman", serif'>ν (meV)</text>
<text transform="translate(1363.8 726.1) scale(1 1.041)" font-size="49.4">Magnetic Field (T)</text>
<circle cx="1745" cy="82.5" r="13.6" fill="#13a052"/>
<circle cx="1745" cy="123.7" r="13.6" fill="#d08a10"/>
<text transform="translate(1793.7 93.8) scale(1 1.041)" font-size="33.4">Sweeping down</text>
<text transform="translate(1793.7 135) scale(1 1.041)" font-size="33.4">Sweeping up</text>
<text transform="translate(8 816.6) scale(1 0.980)" font-size="75.4">(c)</text>
<text transform="translate(200.3 846.6) scale(1 1.041)" font-size="52.3">RMCD Mapping</text>
<text transform="translate(1228.7 846.3) scale(1 1.041)" font-size="52.6">Raman Mapping</text>
<text transform="translate(1085.6 906.6) scale(1 1.041)" font-size="40.9">@42 cm</text>
<text transform="translate(1579.7 906.6) scale(1 1.041)" font-size="40.9">@51 cm</text>
<text transform="translate(1238.1 879.8) scale(1 1.041)" font-size="23.9" letter-spacing="-1">-1</text>
<text transform="translate(1732.2 879.8) scale(1 1.041)" font-size="26.4" letter-spacing="-1">-1</text>
<g clip-path="url(#cpRMCD)"><g filter="url(#fRMCD)">
<rect x="100" y="890" width="560" height="570" fill="#000"/>
<path d="M430 1080.2C440.5 1080.8 472.2 1082.6 493 1084.1C513.8 1085.6 534.1 1087.4 554.6 1089.1C575.1 1090.8 598.5 1092.7 616.1 1094C633.7 1095.3 652.7 1096.5 660 1097L660 1133C653 1132.4 630.4 1131.2 618 1129.5C605.6 1127.8 597.8 1124.2 585.6 1122.5C573.4 1120.8 558.2 1119.9 544.6 1119.4C531 1118.9 517.3 1118.7 503.7 1119.4C490.1 1120.1 475.1 1121.2 462.8 1123.5C450.5 1125.8 435.5 1131.4 430 1133Z" fill="#202020"/>
<path d="M181.6 915C183.2 918 188.2 927.7 191 932.9C193.8 938.1 195.3 941 198.4 946.3C201.5 951.6 205.2 958.5 209.3 964.6C213.4 970.7 218.1 977.2 222.8 982.9C227.5 988.6 232.5 993.7 237.4 998.8C242.3 1003.9 247 1009 252.1 1013.5C257.2 1018 261.8 1021.4 267.9 1025.7C274 1030 281.2 1034.8 288.7 1039.1C296.2 1043.4 304 1047.4 313.1 1051.3C322.2 1055.2 333.3 1058.9 343.6 1062.3C353.9 1065.7 360.4 1068.5 375 1071.5C389.6 1074.5 411.8 1078.3 431.5 1080.4C451.2 1082.5 472.5 1082.6 493 1084.1C513.5 1085.5 534.1 1087.4 554.6 1089.1C575.1 1090.8 598.5 1092.7 616.1 1094C633.7 1095.3 652.7 1096.5 660 1097L660 890L170 890Z" fill="#fff"/>
<path d="M660 1133C653 1132.4 630.4 1131.2 618 1129.5C605.6 1127.8 597.8 1124.2 585.6 1122.5C573.4 1120.8 558.2 1119.9 544.6 1119.4C531 1118.9 517.3 1118.7 503.7 1119.4C490.1 1120.1 475.8 1121.3 462.8 1123.5C449.8 1125.7 436.8 1128.4 425.9 1132.7C415 1137 405.8 1142.6 397.3 1149.1C388.8 1155.6 380.6 1163.8 374.8 1171.6C369 1179.4 364.9 1189 362.5 1196.2C360.1 1203.4 359.8 1208.1 360.5 1214.6C361.2 1221.1 363.2 1228.3 366.6 1235.1C370 1241.9 374.4 1248.7 380.9 1255.5C387.4 1262.3 396.6 1269.9 405.5 1276C414.4 1282.1 424.6 1286.5 434.1 1292.3C443.7 1298.1 454.6 1304.6 462.8 1310.8C471 1317 477.1 1322.4 483.2 1329.2C489.3 1336 493.5 1344.2 499.6 1351.7C505.8 1359.2 513.3 1367.4 520.1 1374.2C526.9 1381 533 1387.1 540.5 1392.6C548 1398 557.6 1403.6 565.1 1406.9C572.6 1410.2 579.3 1411 585.6 1412.5C591.9 1414 596.4 1415 603 1416C609.6 1417 615.5 1417.7 625 1418.5C634.5 1419.3 654.2 1420.6 660 1421L660 1421Z" fill="#fff"/>
</g></g>
<rect x="132.4" y="930.2" width="488.4" height="488.3" fill="none" stroke="#000" stroke-width="4.4"/>
<path d="M215.2 1418.5V1405.8M215.2 930.2V942.9M376 1418.5V1405.8M376 930.2V942.9M536.4 1418.5V1405.8M536.4 930.2V942.9M295.2 1418.5V1411.1M295.2 930.2V937.6M456.5 1418.5V1411.1M456.5 930.2V937.6M132.4 933.6H145.1M620.8 933.6H608.1M132.4 1094H145.1M620.8 1094H608.1M132.4 1254.8H145.1M620.8 1254.8H608.1M132.4 1014.2H139.8M620.8 1014.2H613.4M132.4 1174.3H139.8M620.8 1174.3H613.4M132.4 1335.2H139.8M620.8 1335.2H613.4" stroke="#000" stroke-width="4.0" fill="none"/>
<text transform="translate(66.4 948.3) scale(1 1.041)" font-size="49.6">30</text>
<rect x="615.2" y="1410" width="4" height="6" fill="#000"/>
<text transform="translate(87.3 1430.8) scale(1 1.041)" font-size="52.1">0</text>
<text transform="translate(133.3 1467.4) scale(1 1.041)" font-size="49.3" text-anchor="middle">0</text>
<text transform="translate(614.2 1467.4) scale(1 1.041)" font-size="49.3" text-anchor="middle">30</text>
<text transform="translate(218.5 1538.2) scale(1 1.041)" font-size="49.7">Distance (µm)</text>
<text transform="translate(46.3 1295.6) rotate(-90) scale(1 1.041)" font-size="49.6">Distance (µm)</text>
<rect x="438.9" y="1056.7" width="103.1" height="101" fill="none" stroke="#000" stroke-width="4.4" stroke-dasharray="4.6 6.1"/>
<path d="M923 926L542 1056.7" stroke="#000" stroke-width="2.5" stroke-dasharray="12.3 11.8" stroke-dashoffset="10.1" fill="none"/>
<path d="M923 1416L542 1157.7" stroke="#000" stroke-width="2.5" stroke-dasharray="13.2 12.3" stroke-dashoffset="7.9" fill="none"/>
<rect x="639.6" y="935.6" width="12.4" height="473.1" fill="url(#cbRMCD)" stroke="#000" stroke-width="1.8"/>
<path d="M652 936.8H656.5M652 1054.9H656.5M652 1172.6H656.5M652 1290.4H656.5M652 1408.5H656.5" stroke="#000" stroke-width="1.6"/>
<text transform="translate(708.5 947.2) scale(1 1.041)" font-size="29" text-anchor="end">1.0</text>
<text transform="translate(708.5 1065.3) scale(1 1.041)" font-size="29" text-anchor="end">0.5</text>
<text transform="translate(708.5 1183) scale(1 1.041)" font-size="29" text-anchor="end">0.0</text>
<text transform="translate(708.5 1300.8) scale(1 1.041)" font-size="29" text-anchor="end">-0.5</text>
<text transform="translate(708.5 1418.9) scale(1 1.041)" font-size="29" text-anchor="end">-1.0</text>
<text transform="translate(729 1038.1) rotate(90) scale(1 1.041)" font-size="42.2">RMCD (%)</text>
<g shape-rendering="crispEdges"><rect x="927.2" y="1389.1" width="22.29" height="21.91" fill="#e82a2a"/><rect x="949.1" y="1389.1" width="22.29" height="21.91" fill="#ee2829"/><rect x="971" y="1389.1" width="22.29" height="21.91" fill="#ed2b2c"/><rect x="992.9" y="1389.1" width="22.29" height="21.91" fill="#ee2426"/><rect x="1014.8" y="1389.1" width="22.29" height="21.91" fill="#ee2728"/><rect x="1036.7" y="1389.1" width="22.29" height="21.91" fill="#ee2d2e"/><rect x="1058.5" y="1389.1" width="22.29" height="21.91" fill="#eb2f2f"/><rect x="1080.4" y="1389.1" width="22.29" height="21.91" fill="#e8292a"/><rect x="1102.3" y="1389.1" width="22.29" height="21.91" fill="#f02b2c"/><rect x="1124.2" y="1389.1" width="22.29" height="21.91" fill="#e9292a"/><rect x="1146.1" y="1389.1" width="22.29" height="21.91" fill="#ee2a2b"/><rect x="1168" y="1389.1" width="22.29" height="21.91" fill="#ec2829"/><rect x="1189.9" y="1389.1" width="22.29" height="21.91" fill="#ed2f2f"/><rect x="1211.8" y="1389.1" width="22.29" height="21.91" fill="#ef292a"/><rect x="1233.7" y="1389.1" width="22.29" height="21.91" fill="#ee2426"/><rect x="1255.6" y="1389.1" width="22.29" height="21.91" fill="#e92e2e"/><rect x="1277.4" y="1389.1" width="22.29" height="21.91" fill="#ed2e2e"/><rect x="1299.3" y="1389.1" width="22.29" height="21.91" fill="#ef2e2e"/><rect x="1321.2" y="1389.1" width="22.29" height="21.91" fill="#ed292a"/><rect x="1343.1" y="1389.1" width="22.29" height="21.91" fill="#ed2728"/><rect x="1365" y="1389.1" width="21.89" height="21.91" fill="#f13131"/><rect x="927.2" y="1367.2" width="22.29" height="22.31" fill="#ef2527"/><rect x="949.1" y="1367.2" width="22.29" height="22.31" fill="#e82a2b"/><rect x="971" y="1367.2" width="22.29" height="22.31" fill="#ea2e2e"/><rect x="992.9" y="1367.2" width="22.29" height="22.31" fill="#ee2728"/><rect x="1014.8" y="1367.2" width="22.29" height="22.31" fill="#f12628"/><rect x="1036.7" y="1367.2" width="22.29" height="22.31" fill="#ed2829"/><rect x="1058.5" y="1367.2" width="22.29" height="22.31" fill="#eb2a2b"/><rect x="1080.4" y="1367.2" width="22.29" height="22.31" fill="#ed2e2e"/><rect x="1102.3" y="1367.2" width="22.29" height="22.31" fill="#eb2829"/><rect x="1124.2" y="1367.2" width="22.29" height="22.31" fill="#ed2d2d"/><rect x="1146.1" y="1367.2" width="22.29" height="22.31" fill="#ec2426"/><rect x="1168" y="1367.2" width="22.29" height="22.31" fill="#eb2829"/><rect x="1189.9" y="1367.2" width="22.29" height="22.31" fill="#eb2a2b"/><rect x="1211.8" y="1367.2" width="22.29" height="22.31" fill="#eb2a2a"/><rect x="1233.7" y="1367.2" width="22.29" height="22.31" fill="#ef292a"/><rect x="1255.6" y="1367.2" width="22.29" height="22.31" fill="#ef2e2f"/><rect x="1277.4" y="1367.2" width="22.29" height="22.31" fill="#eb2a2b"/><rect x="1299.3" y="1367.2" width="22.29" height="22.31" fill="#e72e2f"/><rect x="1321.2" y="1367.2" width="22.29" height="22.31" fill="#ea2526"/><rect x="1343.1" y="1367.2" width="22.29" height="22.31" fill="#ec2627"/><rect x="1365" y="1367.2" width="21.89" height="22.31" fill="#ef2a2b"/><rect x="927.2" y="1345.3" width="22.29" height="22.31" fill="#e52627"/><rect x="949.1" y="1345.3" width="22.29" height="22.31" fill="#ee3131"/><rect x="971" y="1345.3" width="22.29" height="22.31" fill="#ec2223"/><rect x="992.9" y="1345.3" width="22.29" height="22.31" fill="#e92a2b"/><rect x="1014.8" y="1345.3" width="22.29" height="22.31" fill="#e82526"/><rect x="1036.7" y="1345.3" width="22.29" height="22.31" fill="#ec2e2e"/><rect x="1058.5" y="1345.3" width="22.29" height="22.31" fill="#eb2929"/><rect x="1080.4" y="1345.3" width="22.29" height="22.31" fill="#e92425"/><rect x="1102.3" y="1345.3" width="22.29" height="22.31" fill="#eb2d2e"/><rect x="1124.2" y="1345.3" width="22.29" height="22.31" fill="#eb2929"/><rect x="1146.1" y="1345.3" width="22.29" height="22.31" fill="#eb2123"/><rect x="1168" y="1345.3" width="22.29" height="22.31" fill="#eb2627"/><rect x="1189.9" y="1345.3" width="22.29" height="22.31" fill="#eb2829"/><rect x="1211.8" y="1345.3" width="22.29" height="22.31" fill="#f02c2d"/><rect x="1233.7" y="1345.3" width="22.29" height="22.31" fill="#f02c2d"/><rect x="1255.6" y="1345.3" width="22.29" height="22.31" fill="#eb2b2c"/><rect x="1277.4" y="1345.3" width="22.29" height="22.31" fill="#e72224"/><rect x="1299.3" y="1345.3" width="22.29" height="22.31" fill="#ec2f30"/><rect x="1321.2" y="1345.3" width="22.29" height="22.31" fill="#ed2829"/><rect x="1343.1" y="1345.3" width="22.29" height="22.31" fill="#e9292a"/><rect x="1365" y="1345.3" width="21.89" height="22.31" fill="#ed2728"/><rect x="927.2" y="1323.3" width="22.29" height="22.31" fill="#ec2d2e"/><rect x="949.1" y="1323.3" width="22.29" height="22.31" fill="#ec2324"/><rect x="971" y="1323.3" width="22.29" height="22.31" fill="#eb2d2e"/><rect x="992.9" y="1323.3" width="22.29" height="22.31" fill="#ed2b2c"/><rect x="1014.8" y="1323.3" width="22.29" height="22.31" fill="#ea2526"/><rect x="1036.7" y="1323.3" width="22.29" height="22.31" fill="#ee2d2d"/><rect x="1058.5" y="1323.3" width="22.29" height="22.31" fill="#ef2829"/><rect x="1080.4" y="1323.3" width="22.29" height="22.31" fill="#ea2e2e"/><rect x="1102.3" y="1323.3" width="22.29" height="22.31" fill="#ea2426"/><rect x="1124.2" y="1323.3" width="22.29" height="22.31" fill="#ec2829"/><rect x="1146.1" y="1323.3" width="22.29" height="22.31" fill="#ef2e2e"/><rect x="1168" y="1323.3" width="22.29" height="22.31" fill="#eb292a"/><rect x="1189.9" y="1323.3" width="22.29" height="22.31" fill="#ed2a2b"/><rect x="1211.8" y="1323.3" width="22.29" height="22.31" fill="#ea2e2e"/><rect x="1233.7" y="1323.3" width="22.29" height="22.31" fill="#e72c2c"/><rect x="1255.6" y="1323.3" width="22.29" height="22.31" fill="#ef2728"/><rect x="1277.4" y="1323.3" width="22.29" height="22.31" fill="#e82324"/><rect x="1299.3" y="1323.3" width="22.29" height="22.31" fill="#ee282a"/><rect x="1321.2" y="1323.3" width="22.29" height="22.31" fill="#ee2c2d"/><rect x="1343.1" y="1323.3" width="22.29" height="22.31" fill="#ea2c2d"/><rect x="1365" y="1323.3" width="21.89" height="22.31" fill="#ea2c2c"/><rect x="927.2" y="1301.4" width="22.29" height="22.31" fill="#ee2e2f"/><rect x="949.1" y="1301.4" width="22.29" height="22.31" fill="#eb2d2d"/><rect x="971" y="1301.4" width="22.29" height="22.31" fill="#f12e2f"/><rect x="992.9" y="1301.4" width="22.29" height="22.31" fill="#ed2d2e"/><rect x="1014.8" y="1301.4" width="22.29" height="22.31" fill="#e92123"/><rect x="1036.7" y="1301.4" width="22.29" height="22.31" fill="#eb2c2d"/><rect x="1058.5" y="1301.4" width="22.29" height="22.31" fill="#ef3030"/><rect x="1080.4" y="1301.4" width="22.29" height="22.31" fill="#ee2c2d"/><rect x="1102.3" y="1301.4" width="22.29" height="22.31" fill="#ec2728"/><rect x="1124.2" y="1301.4" width="22.29" height="22.31" fill="#eb2527"/><rect x="1146.1" y="1301.4" width="22.29" height="22.31" fill="#e92425"/><rect x="1168" y="1301.4" width="22.29" height="22.31" fill="#ef2d2e"/><rect x="1189.9" y="1301.4" width="22.29" height="22.31" fill="#ed3232"/><rect x="1211.8" y="1301.4" width="22.29" height="22.31" fill="#eb2a2b"/><rect x="1233.7" y="1301.4" width="22.29" height="22.31" fill="#ef2d2e"/><rect x="1255.6" y="1301.4" width="22.29" height="22.31" fill="#ee3030"/><rect x="1277.4" y="1301.4" width="22.29" height="22.31" fill="#eb2728"/><rect x="1299.3" y="1301.4" width="22.29" height="22.31" fill="#ee2a2b"/><rect x="1321.2" y="1301.4" width="22.29" height="22.31" fill="#e92a2a"/><rect x="1343.1" y="1301.4" width="22.29" height="22.31" fill="#ea2728"/><rect x="1365" y="1301.4" width="21.89" height="22.31" fill="#ec2b2c"/><rect x="927.2" y="1279.5" width="22.29" height="22.31" fill="#f0282a"/><rect x="949.1" y="1279.5" width="22.29" height="22.31" fill="#ec2829"/><rect x="971" y="1279.5" width="22.29" height="22.31" fill="#ed2628"/><rect x="992.9" y="1279.5" width="22.29" height="22.31" fill="#eb2f2f"/><rect x="1014.8" y="1279.5" width="22.29" height="22.31" fill="#ee2f2f"/><rect x="1036.7" y="1279.5" width="22.29" height="22.31" fill="#ed2526"/><rect x="1058.5" y="1279.5" width="22.29" height="22.31" fill="#ee2e2e"/><rect x="1080.4" y="1279.5" width="22.29" height="22.31" fill="#ed2d2e"/><rect x="1102.3" y="1279.5" width="22.29" height="22.31" fill="#e92c2d"/><rect x="1124.2" y="1279.5" width="22.29" height="22.31" fill="#ec2e2f"/><rect x="1146.1" y="1279.5" width="22.29" height="22.31" fill="#ed2c2d"/><rect x="1168" y="1279.5" width="22.29" height="22.31" fill="#ed2f2f"/><rect x="1189.9" y="1279.5" width="22.29" height="22.31" fill="#ef2d2e"/><rect x="1211.8" y="1279.5" width="22.29" height="22.31" fill="#ec2526"/><rect x="1233.7" y="1279.5" width="22.29" height="22.31" fill="#ed292a"/><rect x="1255.6" y="1279.5" width="22.29" height="22.31" fill="#eb2728"/><rect x="1277.4" y="1279.5" width="22.29" height="22.31" fill="#eb2526"/><rect x="1299.3" y="1279.5" width="22.29" height="22.31" fill="#ed3131"/><rect x="1321.2" y="1279.5" width="22.29" height="22.31" fill="#ee2b2b"/><rect x="1343.1" y="1279.5" width="22.29" height="22.31" fill="#ec2728"/><rect x="1365" y="1279.5" width="21.89" height="22.31" fill="#ec292a"/><rect x="927.2" y="1257.6" width="22.29" height="22.31" fill="#f19d9d"/><rect x="949.1" y="1257.6" width="22.29" height="22.31" fill="#ef6e6d"/><rect x="971" y="1257.6" width="22.29" height="22.31" fill="#ec5958"/><rect x="992.9" y="1257.6" width="22.29" height="22.31" fill="#ec3e3d"/><rect x="1014.8" y="1257.6" width="22.29" height="22.31" fill="#ec3131"/><rect x="1036.7" y="1257.6" width="22.29" height="22.31" fill="#ef2d2e"/><rect x="1058.5" y="1257.6" width="22.29" height="22.31" fill="#eb2c2c"/><rect x="1080.4" y="1257.6" width="22.29" height="22.31" fill="#e82929"/><rect x="1102.3" y="1257.6" width="22.29" height="22.31" fill="#ef3031"/><rect x="1124.2" y="1257.6" width="22.29" height="22.31" fill="#ec292a"/><rect x="1146.1" y="1257.6" width="22.29" height="22.31" fill="#ec2728"/><rect x="1168" y="1257.6" width="22.29" height="22.31" fill="#eb2b2c"/><rect x="1189.9" y="1257.6" width="22.29" height="22.31" fill="#ee3232"/><rect x="1211.8" y="1257.6" width="22.29" height="22.31" fill="#ec2b2c"/><rect x="1233.7" y="1257.6" width="22.29" height="22.31" fill="#eb2b2c"/><rect x="1255.6" y="1257.6" width="22.29" height="22.31" fill="#ec3333"/><rect x="1277.4" y="1257.6" width="22.29" height="22.31" fill="#ee2425"/><rect x="1299.3" y="1257.6" width="22.29" height="22.31" fill="#ea2b2b"/><rect x="1321.2" y="1257.6" width="22.29" height="22.31" fill="#ed2b2c"/><rect x="1343.1" y="1257.6" width="22.29" height="22.31" fill="#ee2c2d"/><rect x="1365" y="1257.6" width="21.89" height="22.31" fill="#ee2f30"/><rect x="927.2" y="1235.7" width="22.29" height="22.31" fill="#fbfafa"/><rect x="949.1" y="1235.7" width="22.29" height="22.31" fill="#f7b6b6"/><rect x="971" y="1235.7" width="22.29" height="22.31" fill="#f18585"/><rect x="992.9" y="1235.7" width="22.29" height="22.31" fill="#f36867"/><rect x="1014.8" y="1235.7" width="22.29" height="22.31" fill="#ea6261"/><rect x="1036.7" y="1235.7" width="22.29" height="22.31" fill="#ea403e"/><rect x="1058.5" y="1235.7" width="22.29" height="22.31" fill="#e83535"/><rect x="1080.4" y="1235.7" width="22.29" height="22.31" fill="#ef3232"/><rect x="1102.3" y="1235.7" width="22.29" height="22.31" fill="#ea292a"/><rect x="1124.2" y="1235.7" width="22.29" height="22.31" fill="#ee3030"/><rect x="1146.1" y="1235.7" width="22.29" height="22.31" fill="#ea2627"/><rect x="1168" y="1235.7" width="22.29" height="22.31" fill="#ee3232"/><rect x="1189.9" y="1235.7" width="22.29" height="22.31" fill="#ea2e2e"/><rect x="1211.8" y="1235.7" width="22.29" height="22.31" fill="#e82829"/><rect x="1233.7" y="1235.7" width="22.29" height="22.31" fill="#ee3232"/><rect x="1255.6" y="1235.7" width="22.29" height="22.31" fill="#ee3131"/><rect x="1277.4" y="1235.7" width="22.29" height="22.31" fill="#ee3333"/><rect x="1299.3" y="1235.7" width="22.29" height="22.31" fill="#f02e2f"/><rect x="1321.2" y="1235.7" width="22.29" height="22.31" fill="#eb2f2f"/><rect x="1343.1" y="1235.7" width="22.29" height="22.31" fill="#ee3030"/><rect x="1365" y="1235.7" width="21.89" height="22.31" fill="#ec3131"/><rect x="927.2" y="1213.8" width="22.29" height="22.31" fill="#6382bd"/><rect x="949.1" y="1213.8" width="22.29" height="22.31" fill="#718ec4"/><rect x="971" y="1213.8" width="22.29" height="22.31" fill="#93aad3"/><rect x="992.9" y="1213.8" width="22.29" height="22.31" fill="#b8c8e3"/><rect x="1014.8" y="1213.8" width="22.29" height="22.31" fill="#f9fafb"/><rect x="1036.7" y="1213.8" width="22.29" height="22.31" fill="#fbfbfb"/><rect x="1058.5" y="1213.8" width="22.29" height="22.31" fill="#fcdbdb"/><rect x="1080.4" y="1213.8" width="22.29" height="22.31" fill="#fcd5d5"/><rect x="1102.3" y="1213.8" width="22.29" height="22.31" fill="#f3a6a6"/><rect x="1124.2" y="1213.8" width="22.29" height="22.31" fill="#f49898"/><rect x="1146.1" y="1213.8" width="22.29" height="22.31" fill="#f18282"/><rect x="1168" y="1213.8" width="22.29" height="22.31" fill="#ec7979"/><rect x="1189.9" y="1213.8" width="22.29" height="22.31" fill="#ee6362"/><rect x="1211.8" y="1213.8" width="22.29" height="22.31" fill="#f07171"/><rect x="1233.7" y="1213.8" width="22.29" height="22.31" fill="#f16d6c"/><rect x="1255.6" y="1213.8" width="22.29" height="22.31" fill="#ef7b7a"/><rect x="1277.4" y="1213.8" width="22.29" height="22.31" fill="#f17574"/><rect x="1299.3" y="1213.8" width="22.29" height="22.31" fill="#f07b7b"/><rect x="1321.2" y="1213.8" width="22.29" height="22.31" fill="#f27979"/><rect x="1343.1" y="1213.8" width="22.29" height="22.31" fill="#f28d8d"/><rect x="1365" y="1213.8" width="21.89" height="22.31" fill="#f17f7f"/><rect x="927.2" y="1191.9" width="22.29" height="22.31" fill="#1e4798"/><rect x="949.1" y="1191.9" width="22.29" height="22.31" fill="#25509e"/><rect x="971" y="1191.9" width="22.29" height="22.31" fill="#27529f"/><rect x="992.9" y="1191.9" width="22.29" height="22.31" fill="#355da7"/><rect x="1014.8" y="1191.9" width="22.29" height="22.31" fill="#466aaf"/><rect x="1036.7" y="1191.9" width="22.29" height="22.31" fill="#5779b8"/><rect x="1058.5" y="1191.9" width="22.29" height="22.31" fill="#708cc4"/><rect x="1080.4" y="1191.9" width="22.29" height="22.31" fill="#95abd4"/><rect x="1102.3" y="1191.9" width="22.29" height="22.31" fill="#acbedf"/><rect x="1124.2" y="1191.9" width="22.29" height="22.31" fill="#bac8e4"/><rect x="1146.1" y="1191.9" width="22.29" height="22.31" fill="#ced9eb"/><rect x="1168" y="1191.9" width="22.29" height="22.31" fill="#d3dbed"/><rect x="1189.9" y="1191.9" width="22.29" height="22.31" fill="#e2e8f2"/><rect x="1211.8" y="1191.9" width="22.29" height="22.31" fill="#f2f4f9"/><rect x="1233.7" y="1191.9" width="22.29" height="22.31" fill="#e6ebf4"/><rect x="1255.6" y="1191.9" width="22.29" height="22.31" fill="#f7f9fa"/><rect x="1277.4" y="1191.9" width="22.29" height="22.31" fill="#eaeef6"/><rect x="1299.3" y="1191.9" width="22.29" height="22.31" fill="#fbf0f0"/><rect x="1321.2" y="1191.9" width="22.29" height="22.31" fill="#fef9f9"/><rect x="1343.1" y="1191.9" width="22.29" height="22.31" fill="#e6ebf4"/><rect x="1365" y="1191.9" width="21.89" height="22.31" fill="#fbf8f8"/><rect x="927.2" y="1170" width="22.29" height="22.31" fill="#204c9b"/><rect x="949.1" y="1170" width="22.29" height="22.31" fill="#214696"/><rect x="971" y="1170" width="22.29" height="22.31" fill="#204c9b"/><rect x="992.9" y="1170" width="22.29" height="22.31" fill="#1e4b9a"/><rect x="1014.8" y="1170" width="22.29" height="22.31" fill="#224b9b"/><rect x="1036.7" y="1170" width="22.29" height="22.31" fill="#264394"/><rect x="1058.5" y="1170" width="22.29" height="22.31" fill="#1e4798"/><rect x="1080.4" y="1170" width="22.29" height="22.31" fill="#1b4999"/><rect x="1102.3" y="1170" width="22.29" height="22.31" fill="#234e9d"/><rect x="1124.2" y="1170" width="22.29" height="22.31" fill="#4267ad"/><rect x="1146.1" y="1170" width="22.29" height="22.31" fill="#4d70b3"/><rect x="1168" y="1170" width="22.29" height="22.31" fill="#5577b6"/><rect x="1189.9" y="1170" width="22.29" height="22.31" fill="#738fc5"/><rect x="1211.8" y="1170" width="22.29" height="22.31" fill="#6b88c2"/><rect x="1233.7" y="1170" width="22.29" height="22.31" fill="#6786c0"/><rect x="1255.6" y="1170" width="22.29" height="22.31" fill="#6282bd"/><rect x="1277.4" y="1170" width="22.29" height="22.31" fill="#6b88c2"/><rect x="1299.3" y="1170" width="22.29" height="22.31" fill="#6684bf"/><rect x="1321.2" y="1170" width="22.29" height="22.31" fill="#6888c0"/><rect x="1343.1" y="1170" width="22.29" height="22.31" fill="#5f80bb"/><rect x="1365" y="1170" width="21.89" height="22.31" fill="#7591c6"/><rect x="927.2" y="1148" width="22.29" height="22.31" fill="#224d9c"/><rect x="949.1" y="1148" width="22.29" height="22.31" fill="#214c9c"/><rect x="971" y="1148" width="22.29" height="22.31" fill="#254697"/><rect x="992.9" y="1148" width="22.29" height="22.31" fill="#1f4495"/><rect x="1014.8" y="1148" width="22.29" height="22.31" fill="#224596"/><rect x="1036.7" y="1148" width="22.29" height="22.31" fill="#214a9a"/><rect x="1058.5" y="1148" width="22.29" height="22.31" fill="#234d9d"/><rect x="1080.4" y="1148" width="22.29" height="22.31" fill="#274192"/><rect x="1102.3" y="1148" width="22.29" height="22.31" fill="#234e9d"/><rect x="1124.2" y="1148" width="22.29" height="22.31" fill="#234394"/><rect x="1146.1" y="1148" width="22.29" height="22.31" fill="#224495"/><rect x="1168" y="1148" width="22.29" height="22.31" fill="#1e4b9a"/><rect x="1189.9" y="1148" width="22.29" height="22.31" fill="#254798"/><rect x="1211.8" y="1148" width="22.29" height="22.31" fill="#1f4a9a"/><rect x="1233.7" y="1148" width="22.29" height="22.31" fill="#234899"/><rect x="1255.6" y="1148" width="22.29" height="22.31" fill="#264697"/><rect x="1277.4" y="1148" width="22.29" height="22.31" fill="#1f4999"/><rect x="1299.3" y="1148" width="22.29" height="22.31" fill="#244798"/><rect x="1321.2" y="1148" width="22.29" height="22.31" fill="#1d4999"/><rect x="1343.1" y="1148" width="22.29" height="22.31" fill="#1d4898"/><rect x="1365" y="1148" width="21.89" height="22.31" fill="#234d9d"/><rect x="927.2" y="1126.1" width="22.29" height="22.31" fill="#214c9b"/><rect x="949.1" y="1126.1" width="22.29" height="22.31" fill="#1b4999"/><rect x="971" y="1126.1" width="22.29" height="22.31" fill="#204797"/><rect x="992.9" y="1126.1" width="22.29" height="22.31" fill="#224999"/><rect x="1014.8" y="1126.1" width="22.29" height="22.31" fill="#204697"/><rect x="1036.7" y="1126.1" width="22.29" height="22.31" fill="#204b9b"/><rect x="1058.5" y="1126.1" width="22.29" height="22.31" fill="#1e4495"/><rect x="1080.4" y="1126.1" width="22.29" height="22.31" fill="#244394"/><rect x="1102.3" y="1126.1" width="22.29" height="22.31" fill="#1b4898"/><rect x="1124.2" y="1126.1" width="22.29" height="22.31" fill="#204999"/><rect x="1146.1" y="1126.1" width="22.29" height="22.31" fill="#224797"/><rect x="1168" y="1126.1" width="22.29" height="22.31" fill="#1f4b9b"/><rect x="1189.9" y="1126.1" width="22.29" height="22.31" fill="#254293"/><rect x="1211.8" y="1126.1" width="22.29" height="22.31" fill="#234596"/><rect x="1233.7" y="1126.1" width="22.29" height="22.31" fill="#214c9b"/><rect x="1255.6" y="1126.1" width="22.29" height="22.31" fill="#214b9b"/><rect x="1277.4" y="1126.1" width="22.29" height="22.31" fill="#214b9b"/><rect x="1299.3" y="1126.1" width="22.29" height="22.31" fill="#1f4a9a"/><rect x="1321.2" y="1126.1" width="22.29" height="22.31" fill="#224697"/><rect x="1343.1" y="1126.1" width="22.29" height="22.31" fill="#214697"/><rect x="1365" y="1126.1" width="21.89" height="22.31" fill="#224a9a"/><rect x="927.2" y="1104.2" width="22.29" height="22.31" fill="#224899"/><rect x="949.1" y="1104.2" width="22.29" height="22.31" fill="#244395"/><rect x="971" y="1104.2" width="22.29" height="22.31" fill="#214c9c"/><rect x="992.9" y="1104.2" width="22.29" height="22.31" fill="#274193"/><rect x="1014.8" y="1104.2" width="22.29" height="22.31" fill="#1e4697"/><rect x="1036.7" y="1104.2" width="22.29" height="22.31" fill="#244192"/><rect x="1058.5" y="1104.2" width="22.29" height="22.31" fill="#254596"/><rect x="1080.4" y="1104.2" width="22.29" height="22.31" fill="#204b9b"/><rect x="1102.3" y="1104.2" width="22.29" height="22.31" fill="#1b4999"/><rect x="1124.2" y="1104.2" width="22.29" height="22.31" fill="#214898"/><rect x="1146.1" y="1104.2" width="22.29" height="22.31" fill="#214596"/><rect x="1168" y="1104.2" width="22.29" height="22.31" fill="#234696"/><rect x="1189.9" y="1104.2" width="22.29" height="22.31" fill="#234a9a"/><rect x="1211.8" y="1104.2" width="22.29" height="22.31" fill="#1f4a9a"/><rect x="1233.7" y="1104.2" width="22.29" height="22.31" fill="#1e4798"/><rect x="1255.6" y="1104.2" width="22.29" height="22.31" fill="#214a9a"/><rect x="1277.4" y="1104.2" width="22.29" height="22.31" fill="#1c4999"/><rect x="1299.3" y="1104.2" width="22.29" height="22.31" fill="#274395"/><rect x="1321.2" y="1104.2" width="22.29" height="22.31" fill="#20499a"/><rect x="1343.1" y="1104.2" width="22.29" height="22.31" fill="#254697"/><rect x="1365" y="1104.2" width="21.89" height="22.31" fill="#1e4a9a"/><rect x="927.2" y="1082.3" width="22.29" height="22.31" fill="#1c4999"/><rect x="949.1" y="1082.3" width="22.29" height="22.31" fill="#1c4696"/><rect x="971" y="1082.3" width="22.29" height="22.31" fill="#264a9b"/><rect x="992.9" y="1082.3" width="22.29" height="22.31" fill="#234d9c"/><rect x="1014.8" y="1082.3" width="22.29" height="22.31" fill="#1f4b9b"/><rect x="1036.7" y="1082.3" width="22.29" height="22.31" fill="#1e4999"/><rect x="1058.5" y="1082.3" width="22.29" height="22.31" fill="#1d4a9a"/><rect x="1080.4" y="1082.3" width="22.29" height="22.31" fill="#274c9d"/><rect x="1102.3" y="1082.3" width="22.29" height="22.31" fill="#1d4a9a"/><rect x="1124.2" y="1082.3" width="22.29" height="22.31" fill="#214c9c"/><rect x="1146.1" y="1082.3" width="22.29" height="22.31" fill="#1e4697"/><rect x="1168" y="1082.3" width="22.29" height="22.31" fill="#1f4898"/><rect x="1189.9" y="1082.3" width="22.29" height="22.31" fill="#204999"/><rect x="1211.8" y="1082.3" width="22.29" height="22.31" fill="#1c4999"/><rect x="1233.7" y="1082.3" width="22.29" height="22.31" fill="#1f4b9b"/><rect x="1255.6" y="1082.3" width="22.29" height="22.31" fill="#264395"/><rect x="1277.4" y="1082.3" width="22.29" height="22.31" fill="#214999"/><rect x="1299.3" y="1082.3" width="22.29" height="22.31" fill="#234495"/><rect x="1321.2" y="1082.3" width="22.29" height="22.31" fill="#1e4697"/><rect x="1343.1" y="1082.3" width="22.29" height="22.31" fill="#1e4a9a"/><rect x="1365" y="1082.3" width="21.89" height="22.31" fill="#1c4999"/><rect x="927.2" y="1060.4" width="22.29" height="22.31" fill="#244092"/><rect x="949.1" y="1060.4" width="22.29" height="22.31" fill="#263f91"/><rect x="971" y="1060.4" width="22.29" height="22.31" fill="#224c9c"/><rect x="992.9" y="1060.4" width="22.29" height="22.31" fill="#254f9e"/><rect x="1014.8" y="1060.4" width="22.29" height="22.31" fill="#28519f"/><rect x="1036.7" y="1060.4" width="22.29" height="22.31" fill="#234e9d"/><rect x="1058.5" y="1060.4" width="22.29" height="22.31" fill="#1e4b9a"/><rect x="1080.4" y="1060.4" width="22.29" height="22.31" fill="#234e9d"/><rect x="1102.3" y="1060.4" width="22.29" height="22.31" fill="#234f9d"/><rect x="1124.2" y="1060.4" width="22.29" height="22.31" fill="#214d9c"/><rect x="1146.1" y="1060.4" width="22.29" height="22.31" fill="#2852a0"/><rect x="1168" y="1060.4" width="22.29" height="22.31" fill="#27529f"/><rect x="1189.9" y="1060.4" width="22.29" height="22.31" fill="#2e56a3"/><rect x="1211.8" y="1060.4" width="22.29" height="22.31" fill="#26509e"/><rect x="1233.7" y="1060.4" width="22.29" height="22.31" fill="#1e4c9a"/><rect x="1255.6" y="1060.4" width="22.29" height="22.31" fill="#26519e"/><rect x="1277.4" y="1060.4" width="22.29" height="22.31" fill="#2a54a1"/><rect x="1299.3" y="1060.4" width="22.29" height="22.31" fill="#2e57a3"/><rect x="1321.2" y="1060.4" width="22.29" height="22.31" fill="#2e58a3"/><rect x="1343.1" y="1060.4" width="22.29" height="22.31" fill="#2954a0"/><rect x="1365" y="1060.4" width="21.89" height="22.31" fill="#2b55a1"/><rect x="927.2" y="1038.5" width="22.29" height="22.31" fill="#4c70b2"/><rect x="949.1" y="1038.5" width="22.29" height="22.31" fill="#446aae"/><rect x="971" y="1038.5" width="22.29" height="22.31" fill="#4f71b3"/><rect x="992.9" y="1038.5" width="22.29" height="22.31" fill="#5c7eba"/><rect x="1014.8" y="1038.5" width="22.29" height="22.31" fill="#6886c0"/><rect x="1036.7" y="1038.5" width="22.29" height="22.31" fill="#5274b5"/><rect x="1058.5" y="1038.5" width="22.29" height="22.31" fill="#597cb9"/><rect x="1080.4" y="1038.5" width="22.29" height="22.31" fill="#6f8cc4"/><rect x="1102.3" y="1038.5" width="22.29" height="22.31" fill="#718fc4"/><rect x="1124.2" y="1038.5" width="22.29" height="22.31" fill="#6a88c1"/><rect x="1146.1" y="1038.5" width="22.29" height="22.31" fill="#869ece"/><rect x="1168" y="1038.5" width="22.29" height="22.31" fill="#7491c5"/><rect x="1189.9" y="1038.5" width="22.29" height="22.31" fill="#7e99ca"/><rect x="1211.8" y="1038.5" width="22.29" height="22.31" fill="#89a1cf"/><rect x="1233.7" y="1038.5" width="22.29" height="22.31" fill="#86a0cd"/><rect x="1255.6" y="1038.5" width="22.29" height="22.31" fill="#7b97c8"/><rect x="1277.4" y="1038.5" width="22.29" height="22.31" fill="#98acd6"/><rect x="1299.3" y="1038.5" width="22.29" height="22.31" fill="#8da5d0"/><rect x="1321.2" y="1038.5" width="22.29" height="22.31" fill="#9cb1d7"/><rect x="1343.1" y="1038.5" width="22.29" height="22.31" fill="#a1b5da"/><rect x="1365" y="1038.5" width="21.89" height="22.31" fill="#b3c3e2"/><rect x="927.2" y="1016.6" width="22.29" height="22.31" fill="#c5d0e8"/><rect x="949.1" y="1016.6" width="22.29" height="22.31" fill="#d4ddee"/><rect x="971" y="1016.6" width="22.29" height="22.31" fill="#ced9eb"/><rect x="992.9" y="1016.6" width="22.29" height="22.31" fill="#f9fafa"/><rect x="1014.8" y="1016.6" width="22.29" height="22.31" fill="#ecf0f6"/><rect x="1036.7" y="1016.6" width="22.29" height="22.31" fill="#e5ebf4"/><rect x="1058.5" y="1016.6" width="22.29" height="22.31" fill="#f8fafa"/><rect x="1080.4" y="1016.6" width="22.29" height="22.31" fill="#fee7e7"/><rect x="1102.3" y="1016.6" width="22.29" height="22.31" fill="#fcf9f9"/><rect x="1124.2" y="1016.6" width="22.29" height="22.31" fill="#f9e8e8"/><rect x="1146.1" y="1016.6" width="22.29" height="22.31" fill="#fbf5f5"/><rect x="1168" y="1016.6" width="22.29" height="22.31" fill="#fcdcdc"/><rect x="1189.9" y="1016.6" width="22.29" height="22.31" fill="#f7d6d6"/><rect x="1211.8" y="1016.6" width="22.29" height="22.31" fill="#fadede"/><rect x="1233.7" y="1016.6" width="22.29" height="22.31" fill="#f7e0e0"/><rect x="1255.6" y="1016.6" width="22.29" height="22.31" fill="#fde4e4"/><rect x="1277.4" y="1016.6" width="22.29" height="22.31" fill="#fde6e6"/><rect x="1299.3" y="1016.6" width="22.29" height="22.31" fill="#f9d1d1"/><rect x="1321.2" y="1016.6" width="22.29" height="22.31" fill="#fad1d1"/><rect x="1343.1" y="1016.6" width="22.29" height="22.31" fill="#f9bdbd"/><rect x="1365" y="1016.6" width="21.89" height="22.31" fill="#ee9a9a"/><rect x="927.2" y="994.6" width="22.29" height="22.31" fill="#f2a9a9"/><rect x="949.1" y="994.6" width="22.29" height="22.31" fill="#f08e8e"/><rect x="971" y="994.6" width="22.29" height="22.31" fill="#f28f8f"/><rect x="992.9" y="994.6" width="22.29" height="22.31" fill="#f59b9b"/><rect x="1014.8" y="994.6" width="22.29" height="22.31" fill="#f19090"/><rect x="1036.7" y="994.6" width="22.29" height="22.31" fill="#f38282"/><rect x="1058.5" y="994.6" width="22.29" height="22.31" fill="#ee8484"/><rect x="1080.4" y="994.6" width="22.29" height="22.31" fill="#ef7676"/><rect x="1102.3" y="994.6" width="22.29" height="22.31" fill="#f38282"/><rect x="1124.2" y="994.6" width="22.29" height="22.31" fill="#ee7372"/><rect x="1146.1" y="994.6" width="22.29" height="22.31" fill="#ef7574"/><rect x="1168" y="994.6" width="22.29" height="22.31" fill="#ef6766"/><rect x="1189.9" y="994.6" width="22.29" height="22.31" fill="#eb6160"/><rect x="1211.8" y="994.6" width="22.29" height="22.31" fill="#f26d6d"/><rect x="1233.7" y="994.6" width="22.29" height="22.31" fill="#f26766"/><rect x="1255.6" y="994.6" width="22.29" height="22.31" fill="#e85c5b"/><rect x="1277.4" y="994.6" width="22.29" height="22.31" fill="#ec5d5c"/><rect x="1299.3" y="994.6" width="22.29" height="22.31" fill="#ee6b6a"/><rect x="1321.2" y="994.6" width="22.29" height="22.31" fill="#ed6260"/><rect x="1343.1" y="994.6" width="22.29" height="22.31" fill="#ef5554"/><rect x="1365" y="994.6" width="21.89" height="22.31" fill="#ee5b5a"/><rect x="927.2" y="972.7" width="22.29" height="22.31" fill="#ea3d3c"/><rect x="949.1" y="972.7" width="22.29" height="22.31" fill="#eb413f"/><rect x="971" y="972.7" width="22.29" height="22.31" fill="#ea3b3a"/><rect x="992.9" y="972.7" width="22.29" height="22.31" fill="#ec3d3c"/><rect x="1014.8" y="972.7" width="22.29" height="22.31" fill="#ee403e"/><rect x="1036.7" y="972.7" width="22.29" height="22.31" fill="#ec3635"/><rect x="1058.5" y="972.7" width="22.29" height="22.31" fill="#e73b3a"/><rect x="1080.4" y="972.7" width="22.29" height="22.31" fill="#ee4342"/><rect x="1102.3" y="972.7" width="22.29" height="22.31" fill="#ea3636"/><rect x="1124.2" y="972.7" width="22.29" height="22.31" fill="#eb3c3b"/><rect x="1146.1" y="972.7" width="22.29" height="22.31" fill="#ec3333"/><rect x="1168" y="972.7" width="22.29" height="22.31" fill="#f33d3c"/><rect x="1189.9" y="972.7" width="22.29" height="22.31" fill="#e93131"/><rect x="1211.8" y="972.7" width="22.29" height="22.31" fill="#ed3333"/><rect x="1233.7" y="972.7" width="22.29" height="22.31" fill="#ed3131"/><rect x="1255.6" y="972.7" width="22.29" height="22.31" fill="#ed3737"/><rect x="1277.4" y="972.7" width="22.29" height="22.31" fill="#ec3534"/><rect x="1299.3" y="972.7" width="22.29" height="22.31" fill="#ed3232"/><rect x="1321.2" y="972.7" width="22.29" height="22.31" fill="#eb2f2f"/><rect x="1343.1" y="972.7" width="22.29" height="22.31" fill="#eb2526"/><rect x="1365" y="972.7" width="21.89" height="22.31" fill="#ed3030"/><rect x="927.2" y="950.8" width="22.29" height="22.31" fill="#ee292a"/><rect x="949.1" y="950.8" width="22.29" height="22.31" fill="#eb2e2f"/><rect x="971" y="950.8" width="22.29" height="22.31" fill="#ec2627"/><rect x="992.9" y="950.8" width="22.29" height="22.31" fill="#e92728"/><rect x="1014.8" y="950.8" width="22.29" height="22.31" fill="#ea2e2e"/><rect x="1036.7" y="950.8" width="22.29" height="22.31" fill="#ee292a"/><rect x="1058.5" y="950.8" width="22.29" height="22.31" fill="#e82425"/><rect x="1080.4" y="950.8" width="22.29" height="22.31" fill="#ec2a2b"/><rect x="1102.3" y="950.8" width="22.29" height="22.31" fill="#eb2b2b"/><rect x="1124.2" y="950.8" width="22.29" height="22.31" fill="#eb2d2d"/><rect x="1146.1" y="950.8" width="22.29" height="22.31" fill="#ef3434"/><rect x="1168" y="950.8" width="22.29" height="22.31" fill="#ef2a2b"/><rect x="1189.9" y="950.8" width="22.29" height="22.31" fill="#e82b2b"/><rect x="1211.8" y="950.8" width="22.29" height="22.31" fill="#e72022"/><rect x="1233.7" y="950.8" width="22.29" height="22.31" fill="#ee2f2f"/><rect x="1255.6" y="950.8" width="22.29" height="22.31" fill="#ea2325"/><rect x="1277.4" y="950.8" width="22.29" height="22.31" fill="#eb2a2b"/><rect x="1299.3" y="950.8" width="22.29" height="22.31" fill="#ea2627"/><rect x="1321.2" y="950.8" width="22.29" height="22.31" fill="#ee2829"/><rect x="1343.1" y="950.8" width="22.29" height="22.31" fill="#ec2a2b"/><rect x="1365" y="950.8" width="21.89" height="22.31" fill="#ed2123"/><rect x="927.2" y="928.9" width="22.29" height="22.31" fill="#ee2b2b"/><rect x="949.1" y="928.9" width="22.29" height="22.31" fill="#ea2224"/><rect x="971" y="928.9" width="22.29" height="22.31" fill="#ef2d2e"/><rect x="992.9" y="928.9" width="22.29" height="22.31" fill="#ef2526"/><rect x="1014.8" y="928.9" width="22.29" height="22.31" fill="#e92022"/><rect x="1036.7" y="928.9" width="22.29" height="22.31" fill="#ee2f2f"/><rect x="1058.5" y="928.9" width="22.29" height="22.31" fill="#ec2426"/><rect x="1080.4" y="928.9" width="22.29" height="22.31" fill="#ea2425"/><rect x="1102.3" y="928.9" width="22.29" height="22.31" fill="#ec2b2c"/><rect x="1124.2" y="928.9" width="22.29" height="22.31" fill="#ed2728"/><rect x="1146.1" y="928.9" width="22.29" height="22.31" fill="#ed292a"/><rect x="1168" y="928.9" width="22.29" height="22.31" fill="#ed2425"/><rect x="1189.9" y="928.9" width="22.29" height="22.31" fill="#f02b2c"/><rect x="1211.8" y="928.9" width="22.29" height="22.31" fill="#ec2c2d"/><rect x="1233.7" y="928.9" width="22.29" height="22.31" fill="#f12325"/><rect x="1255.6" y="928.9" width="22.29" height="22.31" fill="#eb2123"/><rect x="1277.4" y="928.9" width="22.29" height="22.31" fill="#eb2e2e"/><rect x="1299.3" y="928.9" width="22.29" height="22.31" fill="#ec2829"/><rect x="1321.2" y="928.9" width="22.29" height="22.31" fill="#eb2b2c"/><rect x="1343.1" y="928.9" width="22.29" height="22.31" fill="#ec2728"/><rect x="1365" y="928.9" width="21.89" height="22.31" fill="#ed2325"/></g>
<g shape-rendering="crispEdges"><rect x="1430.9" y="1388.7" width="22.26" height="21.89" fill="#1e4898"/><rect x="1452.8" y="1388.7" width="22.26" height="21.89" fill="#274092"/><rect x="1474.6" y="1388.7" width="22.26" height="21.89" fill="#2b4294"/><rect x="1496.5" y="1388.7" width="22.26" height="21.89" fill="#244697"/><rect x="1518.3" y="1388.7" width="22.26" height="21.89" fill="#204697"/><rect x="1540.2" y="1388.7" width="22.26" height="21.89" fill="#294092"/><rect x="1562" y="1388.7" width="22.26" height="21.89" fill="#234293"/><rect x="1583.9" y="1388.7" width="22.26" height="21.89" fill="#284597"/><rect x="1605.8" y="1388.7" width="22.26" height="21.89" fill="#284092"/><rect x="1627.6" y="1388.7" width="22.26" height="21.89" fill="#264495"/><rect x="1649.5" y="1388.7" width="22.26" height="21.89" fill="#244697"/><rect x="1671.3" y="1388.7" width="22.26" height="21.89" fill="#1f4697"/><rect x="1693.2" y="1388.7" width="22.26" height="21.89" fill="#2a4193"/><rect x="1715" y="1388.7" width="22.26" height="21.89" fill="#273f91"/><rect x="1736.9" y="1388.7" width="22.26" height="21.89" fill="#274294"/><rect x="1758.8" y="1388.7" width="22.26" height="21.89" fill="#294193"/><rect x="1780.6" y="1388.7" width="22.26" height="21.89" fill="#1d4596"/><rect x="1802.5" y="1388.7" width="22.26" height="21.89" fill="#2a4193"/><rect x="1824.3" y="1388.7" width="22.26" height="21.89" fill="#2b4294"/><rect x="1846.2" y="1388.7" width="22.26" height="21.89" fill="#204b9b"/><rect x="1868" y="1388.7" width="21.86" height="21.89" fill="#284092"/><rect x="1430.9" y="1366.8" width="22.26" height="22.29" fill="#254394"/><rect x="1452.8" y="1366.8" width="22.26" height="22.29" fill="#294092"/><rect x="1474.6" y="1366.8" width="22.26" height="22.29" fill="#294092"/><rect x="1496.5" y="1366.8" width="22.26" height="22.29" fill="#294395"/><rect x="1518.3" y="1366.8" width="22.26" height="22.29" fill="#274394"/><rect x="1540.2" y="1366.8" width="22.26" height="22.29" fill="#284092"/><rect x="1562" y="1366.8" width="22.26" height="22.29" fill="#264697"/><rect x="1583.9" y="1366.8" width="22.26" height="22.29" fill="#294495"/><rect x="1605.8" y="1366.8" width="22.26" height="22.29" fill="#204697"/><rect x="1627.6" y="1366.8" width="22.26" height="22.29" fill="#263f91"/><rect x="1649.5" y="1366.8" width="22.26" height="22.29" fill="#264294"/><rect x="1671.3" y="1366.8" width="22.26" height="22.29" fill="#274092"/><rect x="1693.2" y="1366.8" width="22.26" height="22.29" fill="#234495"/><rect x="1715" y="1366.8" width="22.26" height="22.29" fill="#274092"/><rect x="1736.9" y="1366.8" width="22.26" height="22.29" fill="#214596"/><rect x="1758.8" y="1366.8" width="22.26" height="22.29" fill="#254596"/><rect x="1780.6" y="1366.8" width="22.26" height="22.29" fill="#274294"/><rect x="1802.5" y="1366.8" width="22.26" height="22.29" fill="#284092"/><rect x="1824.3" y="1366.8" width="22.26" height="22.29" fill="#204798"/><rect x="1846.2" y="1366.8" width="22.26" height="22.29" fill="#2b4294"/><rect x="1868" y="1366.8" width="21.86" height="22.29" fill="#2c4294"/><rect x="1430.9" y="1344.9" width="22.26" height="22.29" fill="#274394"/><rect x="1452.8" y="1344.9" width="22.26" height="22.29" fill="#254394"/><rect x="1474.6" y="1344.9" width="22.26" height="22.29" fill="#224697"/><rect x="1496.5" y="1344.9" width="22.26" height="22.29" fill="#284092"/><rect x="1518.3" y="1344.9" width="22.26" height="22.29" fill="#284092"/><rect x="1540.2" y="1344.9" width="22.26" height="22.29" fill="#284092"/><rect x="1562" y="1344.9" width="22.26" height="22.29" fill="#254596"/><rect x="1583.9" y="1344.9" width="22.26" height="22.29" fill="#213e90"/><rect x="1605.8" y="1344.9" width="22.26" height="22.29" fill="#2b4193"/><rect x="1627.6" y="1344.9" width="22.26" height="22.29" fill="#294193"/><rect x="1649.5" y="1344.9" width="22.26" height="22.29" fill="#2c4294"/><rect x="1671.3" y="1344.9" width="22.26" height="22.29" fill="#273f91"/><rect x="1693.2" y="1344.9" width="22.26" height="22.29" fill="#294193"/><rect x="1715" y="1344.9" width="22.26" height="22.29" fill="#274294"/><rect x="1736.9" y="1344.9" width="22.26" height="22.29" fill="#2c4294"/><rect x="1758.8" y="1344.9" width="22.26" height="22.29" fill="#244293"/><rect x="1780.6" y="1344.9" width="22.26" height="22.29" fill="#1f4696"/><rect x="1802.5" y="1344.9" width="22.26" height="22.29" fill="#274496"/><rect x="1824.3" y="1344.9" width="22.26" height="22.29" fill="#244596"/><rect x="1846.2" y="1344.9" width="22.26" height="22.29" fill="#244092"/><rect x="1868" y="1344.9" width="21.86" height="22.29" fill="#224293"/><rect x="1430.9" y="1323" width="22.26" height="22.29" fill="#244798"/><rect x="1452.8" y="1323" width="22.26" height="22.29" fill="#224091"/><rect x="1474.6" y="1323" width="22.26" height="22.29" fill="#254596"/><rect x="1496.5" y="1323" width="22.26" height="22.29" fill="#274092"/><rect x="1518.3" y="1323" width="22.26" height="22.29" fill="#274395"/><rect x="1540.2" y="1323" width="22.26" height="22.29" fill="#263f91"/><rect x="1562" y="1323" width="22.26" height="22.29" fill="#263f91"/><rect x="1583.9" y="1323" width="22.26" height="22.29" fill="#244b9b"/><rect x="1605.8" y="1323" width="22.26" height="22.29" fill="#274092"/><rect x="1627.6" y="1323" width="22.26" height="22.29" fill="#23499a"/><rect x="1649.5" y="1323" width="22.26" height="22.29" fill="#224b9b"/><rect x="1671.3" y="1323" width="22.26" height="22.29" fill="#254495"/><rect x="1693.2" y="1323" width="22.26" height="22.29" fill="#224898"/><rect x="1715" y="1323" width="22.26" height="22.29" fill="#284092"/><rect x="1736.9" y="1323" width="22.26" height="22.29" fill="#2a4193"/><rect x="1758.8" y="1323" width="22.26" height="22.29" fill="#254394"/><rect x="1780.6" y="1323" width="22.26" height="22.29" fill="#214192"/><rect x="1802.5" y="1323" width="22.26" height="22.29" fill="#273f91"/><rect x="1824.3" y="1323" width="22.26" height="22.29" fill="#254293"/><rect x="1846.2" y="1323" width="22.26" height="22.29" fill="#264394"/><rect x="1868" y="1323" width="21.86" height="22.29" fill="#253f91"/><rect x="1430.9" y="1301.1" width="22.26" height="22.29" fill="#204596"/><rect x="1452.8" y="1301.1" width="22.26" height="22.29" fill="#294294"/><rect x="1474.6" y="1301.1" width="22.26" height="22.29" fill="#2c4395"/><rect x="1496.5" y="1301.1" width="22.26" height="22.29" fill="#273f91"/><rect x="1518.3" y="1301.1" width="22.26" height="22.29" fill="#2a4193"/><rect x="1540.2" y="1301.1" width="22.26" height="22.29" fill="#294193"/><rect x="1562" y="1301.1" width="22.26" height="22.29" fill="#2a4698"/><rect x="1583.9" y="1301.1" width="22.26" height="22.29" fill="#234395"/><rect x="1605.8" y="1301.1" width="22.26" height="22.29" fill="#2a4193"/><rect x="1627.6" y="1301.1" width="22.26" height="22.29" fill="#273f91"/><rect x="1649.5" y="1301.1" width="22.26" height="22.29" fill="#263f91"/><rect x="1671.3" y="1301.1" width="22.26" height="22.29" fill="#204596"/><rect x="1693.2" y="1301.1" width="22.26" height="22.29" fill="#2a4193"/><rect x="1715" y="1301.1" width="22.26" height="22.29" fill="#284092"/><rect x="1736.9" y="1301.1" width="22.26" height="22.29" fill="#284092"/><rect x="1758.8" y="1301.1" width="22.26" height="22.29" fill="#2a4193"/><rect x="1780.6" y="1301.1" width="22.26" height="22.29" fill="#284294"/><rect x="1802.5" y="1301.1" width="22.26" height="22.29" fill="#214798"/><rect x="1824.3" y="1301.1" width="22.26" height="22.29" fill="#234898"/><rect x="1846.2" y="1301.1" width="22.26" height="22.29" fill="#214495"/><rect x="1868" y="1301.1" width="21.86" height="22.29" fill="#264394"/><rect x="1430.9" y="1279.3" width="22.26" height="22.29" fill="#335aa5"/><rect x="1452.8" y="1279.3" width="22.26" height="22.29" fill="#2d55a2"/><rect x="1474.6" y="1279.3" width="22.26" height="22.29" fill="#1d4999"/><rect x="1496.5" y="1279.3" width="22.26" height="22.29" fill="#1c4999"/><rect x="1518.3" y="1279.3" width="22.26" height="22.29" fill="#224596"/><rect x="1540.2" y="1279.3" width="22.26" height="22.29" fill="#214999"/><rect x="1562" y="1279.3" width="22.26" height="22.29" fill="#274395"/><rect x="1583.9" y="1279.3" width="22.26" height="22.29" fill="#273f91"/><rect x="1605.8" y="1279.3" width="22.26" height="22.29" fill="#1e4a9a"/><rect x="1627.6" y="1279.3" width="22.26" height="22.29" fill="#254b9b"/><rect x="1649.5" y="1279.3" width="22.26" height="22.29" fill="#224697"/><rect x="1671.3" y="1279.3" width="22.26" height="22.29" fill="#294092"/><rect x="1693.2" y="1279.3" width="22.26" height="22.29" fill="#204b9b"/><rect x="1715" y="1279.3" width="22.26" height="22.29" fill="#284a9b"/><rect x="1736.9" y="1279.3" width="22.26" height="22.29" fill="#214898"/><rect x="1758.8" y="1279.3" width="22.26" height="22.29" fill="#1f4697"/><rect x="1780.6" y="1279.3" width="22.26" height="22.29" fill="#214b9b"/><rect x="1802.5" y="1279.3" width="22.26" height="22.29" fill="#214b9b"/><rect x="1824.3" y="1279.3" width="22.26" height="22.29" fill="#234395"/><rect x="1846.2" y="1279.3" width="22.26" height="22.29" fill="#214d9c"/><rect x="1868" y="1279.3" width="21.86" height="22.29" fill="#274193"/><rect x="1430.9" y="1257.4" width="22.26" height="22.29" fill="#6585be"/><rect x="1452.8" y="1257.4" width="22.26" height="22.29" fill="#3961a9"/><rect x="1474.6" y="1257.4" width="22.26" height="22.29" fill="#2d56a2"/><rect x="1496.5" y="1257.4" width="22.26" height="22.29" fill="#2a54a1"/><rect x="1518.3" y="1257.4" width="22.26" height="22.29" fill="#184797"/><rect x="1540.2" y="1257.4" width="22.26" height="22.29" fill="#1f4394"/><rect x="1562" y="1257.4" width="22.26" height="22.29" fill="#224899"/><rect x="1583.9" y="1257.4" width="22.26" height="22.29" fill="#234495"/><rect x="1605.8" y="1257.4" width="22.26" height="22.29" fill="#224a9a"/><rect x="1627.6" y="1257.4" width="22.26" height="22.29" fill="#264596"/><rect x="1649.5" y="1257.4" width="22.26" height="22.29" fill="#254697"/><rect x="1671.3" y="1257.4" width="22.26" height="22.29" fill="#274092"/><rect x="1693.2" y="1257.4" width="22.26" height="22.29" fill="#1d4797"/><rect x="1715" y="1257.4" width="22.26" height="22.29" fill="#253f91"/><rect x="1736.9" y="1257.4" width="22.26" height="22.29" fill="#234697"/><rect x="1758.8" y="1257.4" width="22.26" height="22.29" fill="#1f4999"/><rect x="1780.6" y="1257.4" width="22.26" height="22.29" fill="#253f91"/><rect x="1802.5" y="1257.4" width="22.26" height="22.29" fill="#21499a"/><rect x="1824.3" y="1257.4" width="22.26" height="22.29" fill="#25499a"/><rect x="1846.2" y="1257.4" width="22.26" height="22.29" fill="#244495"/><rect x="1868" y="1257.4" width="21.86" height="22.29" fill="#204798"/><rect x="1430.9" y="1235.5" width="22.26" height="22.29" fill="#ebf0f6"/><rect x="1452.8" y="1235.5" width="22.26" height="22.29" fill="#afc0e0"/><rect x="1474.6" y="1235.5" width="22.26" height="22.29" fill="#98add6"/><rect x="1496.5" y="1235.5" width="22.26" height="22.29" fill="#5175b5"/><rect x="1518.3" y="1235.5" width="22.26" height="22.29" fill="#456baf"/><rect x="1540.2" y="1235.5" width="22.26" height="22.29" fill="#375ea8"/><rect x="1562" y="1235.5" width="22.26" height="22.29" fill="#2954a0"/><rect x="1583.9" y="1235.5" width="22.26" height="22.29" fill="#25509e"/><rect x="1605.8" y="1235.5" width="22.26" height="22.29" fill="#2952a0"/><rect x="1627.6" y="1235.5" width="22.26" height="22.29" fill="#214a9a"/><rect x="1649.5" y="1235.5" width="22.26" height="22.29" fill="#1f4899"/><rect x="1671.3" y="1235.5" width="22.26" height="22.29" fill="#1d4596"/><rect x="1693.2" y="1235.5" width="22.26" height="22.29" fill="#214d9c"/><rect x="1715" y="1235.5" width="22.26" height="22.29" fill="#234395"/><rect x="1736.9" y="1235.5" width="22.26" height="22.29" fill="#224697"/><rect x="1758.8" y="1235.5" width="22.26" height="22.29" fill="#254899"/><rect x="1780.6" y="1235.5" width="22.26" height="22.29" fill="#294395"/><rect x="1802.5" y="1235.5" width="22.26" height="22.29" fill="#224999"/><rect x="1824.3" y="1235.5" width="22.26" height="22.29" fill="#204596"/><rect x="1846.2" y="1235.5" width="22.26" height="22.29" fill="#244b9c"/><rect x="1868" y="1235.5" width="21.86" height="22.29" fill="#264496"/><rect x="1430.9" y="1213.6" width="22.26" height="22.29" fill="#ed4644"/><rect x="1452.8" y="1213.6" width="22.26" height="22.29" fill="#f58888"/><rect x="1474.6" y="1213.6" width="22.26" height="22.29" fill="#f69f9f"/><rect x="1496.5" y="1213.6" width="22.26" height="22.29" fill="#fac6c6"/><rect x="1518.3" y="1213.6" width="22.26" height="22.29" fill="#faf3f3"/><rect x="1540.2" y="1213.6" width="22.26" height="22.29" fill="#f2f4f8"/><rect x="1562" y="1213.6" width="22.26" height="22.29" fill="#c6d2e8"/><rect x="1583.9" y="1213.6" width="22.26" height="22.29" fill="#b7c6e4"/><rect x="1605.8" y="1213.6" width="22.26" height="22.29" fill="#87a1ce"/><rect x="1627.6" y="1213.6" width="22.26" height="22.29" fill="#6f8dc3"/><rect x="1649.5" y="1213.6" width="22.26" height="22.29" fill="#6685bf"/><rect x="1671.3" y="1213.6" width="22.26" height="22.29" fill="#4d71b2"/><rect x="1693.2" y="1213.6" width="22.26" height="22.29" fill="#476cb0"/><rect x="1715" y="1213.6" width="22.26" height="22.29" fill="#456baf"/><rect x="1736.9" y="1213.6" width="22.26" height="22.29" fill="#486cb0"/><rect x="1758.8" y="1213.6" width="22.26" height="22.29" fill="#5576b6"/><rect x="1780.6" y="1213.6" width="22.26" height="22.29" fill="#5274b5"/><rect x="1802.5" y="1213.6" width="22.26" height="22.29" fill="#496eb1"/><rect x="1824.3" y="1213.6" width="22.26" height="22.29" fill="#4f73b4"/><rect x="1846.2" y="1213.6" width="22.26" height="22.29" fill="#4d72b3"/><rect x="1868" y="1213.6" width="21.86" height="22.29" fill="#5477b6"/><rect x="1430.9" y="1191.7" width="22.26" height="22.29" fill="#ed2a2b"/><rect x="1452.8" y="1191.7" width="22.26" height="22.29" fill="#ea2b2b"/><rect x="1474.6" y="1191.7" width="22.26" height="22.29" fill="#ee2d2e"/><rect x="1496.5" y="1191.7" width="22.26" height="22.29" fill="#eb2a2b"/><rect x="1518.3" y="1191.7" width="22.26" height="22.29" fill="#f03e3d"/><rect x="1540.2" y="1191.7" width="22.26" height="22.29" fill="#ec4f4d"/><rect x="1562" y="1191.7" width="22.26" height="22.29" fill="#ed6463"/><rect x="1583.9" y="1191.7" width="22.26" height="22.29" fill="#f09191"/><rect x="1605.8" y="1191.7" width="22.26" height="22.29" fill="#f4a2a2"/><rect x="1627.6" y="1191.7" width="22.26" height="22.29" fill="#f4b4b4"/><rect x="1649.5" y="1191.7" width="22.26" height="22.29" fill="#facccc"/><rect x="1671.3" y="1191.7" width="22.26" height="22.29" fill="#ffecec"/><rect x="1693.2" y="1191.7" width="22.26" height="22.29" fill="#fdfcfd"/><rect x="1715" y="1191.7" width="22.26" height="22.29" fill="#feeded"/><rect x="1736.9" y="1191.7" width="22.26" height="22.29" fill="#f9eeee"/><rect x="1758.8" y="1191.7" width="22.26" height="22.29" fill="#fdfcfc"/><rect x="1780.6" y="1191.7" width="22.26" height="22.29" fill="#fafafc"/><rect x="1802.5" y="1191.7" width="22.26" height="22.29" fill="#f4f7f9"/><rect x="1824.3" y="1191.7" width="22.26" height="22.29" fill="#fbf6f6"/><rect x="1846.2" y="1191.7" width="22.26" height="22.29" fill="#faf3f3"/><rect x="1868" y="1191.7" width="21.86" height="22.29" fill="#f3f5f9"/><rect x="1430.9" y="1169.8" width="22.26" height="22.29" fill="#eb2d2e"/><rect x="1452.8" y="1169.8" width="22.26" height="22.29" fill="#ef2628"/><rect x="1474.6" y="1169.8" width="22.26" height="22.29" fill="#eb2b2b"/><rect x="1496.5" y="1169.8" width="22.26" height="22.29" fill="#ee2a2b"/><rect x="1518.3" y="1169.8" width="22.26" height="22.29" fill="#eb2425"/><rect x="1540.2" y="1169.8" width="22.26" height="22.29" fill="#ea2a2b"/><rect x="1562" y="1169.8" width="22.26" height="22.29" fill="#ee2c2d"/><rect x="1583.9" y="1169.8" width="22.26" height="22.29" fill="#e92e2e"/><rect x="1605.8" y="1169.8" width="22.26" height="22.29" fill="#ec3131"/><rect x="1627.6" y="1169.8" width="22.26" height="22.29" fill="#eb3b3a"/><rect x="1649.5" y="1169.8" width="22.26" height="22.29" fill="#ed5352"/><rect x="1671.3" y="1169.8" width="22.26" height="22.29" fill="#ef5c5a"/><rect x="1693.2" y="1169.8" width="22.26" height="22.29" fill="#ec6867"/><rect x="1715" y="1169.8" width="22.26" height="22.29" fill="#f26e6d"/><rect x="1736.9" y="1169.8" width="22.26" height="22.29" fill="#f07575"/><rect x="1758.8" y="1169.8" width="22.26" height="22.29" fill="#ef7271"/><rect x="1780.6" y="1169.8" width="22.26" height="22.29" fill="#f28383"/><rect x="1802.5" y="1169.8" width="22.26" height="22.29" fill="#ef7a7a"/><rect x="1824.3" y="1169.8" width="22.26" height="22.29" fill="#ee8080"/><rect x="1846.2" y="1169.8" width="22.26" height="22.29" fill="#ef7f7f"/><rect x="1868" y="1169.8" width="21.86" height="22.29" fill="#ef7171"/><rect x="1430.9" y="1147.9" width="22.26" height="22.29" fill="#ed2728"/><rect x="1452.8" y="1147.9" width="22.26" height="22.29" fill="#ec2526"/><rect x="1474.6" y="1147.9" width="22.26" height="22.29" fill="#ea2526"/><rect x="1496.5" y="1147.9" width="22.26" height="22.29" fill="#ea2526"/><rect x="1518.3" y="1147.9" width="22.26" height="22.29" fill="#e72526"/><rect x="1540.2" y="1147.9" width="22.26" height="22.29" fill="#ed2a2b"/><rect x="1562" y="1147.9" width="22.26" height="22.29" fill="#e92728"/><rect x="1583.9" y="1147.9" width="22.26" height="22.29" fill="#e92325"/><rect x="1605.8" y="1147.9" width="22.26" height="22.29" fill="#ec2829"/><rect x="1627.6" y="1147.9" width="22.26" height="22.29" fill="#ee2a2b"/><rect x="1649.5" y="1147.9" width="22.26" height="22.29" fill="#ef2d2e"/><rect x="1671.3" y="1147.9" width="22.26" height="22.29" fill="#ed2325"/><rect x="1693.2" y="1147.9" width="22.26" height="22.29" fill="#ea2526"/><rect x="1715" y="1147.9" width="22.26" height="22.29" fill="#ed2b2c"/><rect x="1736.9" y="1147.9" width="22.26" height="22.29" fill="#ef2829"/><rect x="1758.8" y="1147.9" width="22.26" height="22.29" fill="#ed292a"/><rect x="1780.6" y="1147.9" width="22.26" height="22.29" fill="#ee2d2e"/><rect x="1802.5" y="1147.9" width="22.26" height="22.29" fill="#ee2627"/><rect x="1824.3" y="1147.9" width="22.26" height="22.29" fill="#e9292a"/><rect x="1846.2" y="1147.9" width="22.26" height="22.29" fill="#ec292a"/><rect x="1868" y="1147.9" width="21.86" height="22.29" fill="#ee2526"/><rect x="1430.9" y="1126" width="22.26" height="22.29" fill="#e62425"/><rect x="1452.8" y="1126" width="22.26" height="22.29" fill="#ef2224"/><rect x="1474.6" y="1126" width="22.26" height="22.29" fill="#ee2628"/><rect x="1496.5" y="1126" width="22.26" height="22.29" fill="#ec2728"/><rect x="1518.3" y="1126" width="22.26" height="22.29" fill="#eb2728"/><rect x="1540.2" y="1126" width="22.26" height="22.29" fill="#e91f21"/><rect x="1562" y="1126" width="22.26" height="22.29" fill="#e82425"/><rect x="1583.9" y="1126" width="22.26" height="22.29" fill="#ed2627"/><rect x="1605.8" y="1126" width="22.26" height="22.29" fill="#f02e2f"/><rect x="1627.6" y="1126" width="22.26" height="22.29" fill="#ef282a"/><rect x="1649.5" y="1126" width="22.26" height="22.29" fill="#ea2325"/><rect x="1671.3" y="1126" width="22.26" height="22.29" fill="#ef2c2c"/><rect x="1693.2" y="1126" width="22.26" height="22.29" fill="#f13031"/><rect x="1715" y="1126" width="22.26" height="22.29" fill="#ec2425"/><rect x="1736.9" y="1126" width="22.26" height="22.29" fill="#ef2a2b"/><rect x="1758.8" y="1126" width="22.26" height="22.29" fill="#ee2f30"/><rect x="1780.6" y="1126" width="22.26" height="22.29" fill="#ee3030"/><rect x="1802.5" y="1126" width="22.26" height="22.29" fill="#ec2526"/><rect x="1824.3" y="1126" width="22.26" height="22.29" fill="#eb2a2a"/><rect x="1846.2" y="1126" width="22.26" height="22.29" fill="#ed2628"/><rect x="1868" y="1126" width="21.86" height="22.29" fill="#ec2a2b"/><rect x="1430.9" y="1104.1" width="22.26" height="22.29" fill="#ef2829"/><rect x="1452.8" y="1104.1" width="22.26" height="22.29" fill="#ec2b2b"/><rect x="1474.6" y="1104.1" width="22.26" height="22.29" fill="#ee2e2f"/><rect x="1496.5" y="1104.1" width="22.26" height="22.29" fill="#ec2c2d"/><rect x="1518.3" y="1104.1" width="22.26" height="22.29" fill="#ec2627"/><rect x="1540.2" y="1104.1" width="22.26" height="22.29" fill="#ea2a2b"/><rect x="1562" y="1104.1" width="22.26" height="22.29" fill="#ee2527"/><rect x="1583.9" y="1104.1" width="22.26" height="22.29" fill="#f02d2e"/><rect x="1605.8" y="1104.1" width="22.26" height="22.29" fill="#ec2a2b"/><rect x="1627.6" y="1104.1" width="22.26" height="22.29" fill="#ed2627"/><rect x="1649.5" y="1104.1" width="22.26" height="22.29" fill="#ea2627"/><rect x="1671.3" y="1104.1" width="22.26" height="22.29" fill="#ea2526"/><rect x="1693.2" y="1104.1" width="22.26" height="22.29" fill="#e9292a"/><rect x="1715" y="1104.1" width="22.26" height="22.29" fill="#ec2a2b"/><rect x="1736.9" y="1104.1" width="22.26" height="22.29" fill="#eb2728"/><rect x="1758.8" y="1104.1" width="22.26" height="22.29" fill="#ed2627"/><rect x="1780.6" y="1104.1" width="22.26" height="22.29" fill="#ec2728"/><rect x="1802.5" y="1104.1" width="22.26" height="22.29" fill="#ee3131"/><rect x="1824.3" y="1104.1" width="22.26" height="22.29" fill="#eb2b2b"/><rect x="1846.2" y="1104.1" width="22.26" height="22.29" fill="#ed2829"/><rect x="1868" y="1104.1" width="21.86" height="22.29" fill="#ed292a"/><rect x="1430.9" y="1082.2" width="22.26" height="22.29" fill="#e92728"/><rect x="1452.8" y="1082.2" width="22.26" height="22.29" fill="#ea292a"/><rect x="1474.6" y="1082.2" width="22.26" height="22.29" fill="#ec2e2f"/><rect x="1496.5" y="1082.2" width="22.26" height="22.29" fill="#ec2627"/><rect x="1518.3" y="1082.2" width="22.26" height="22.29" fill="#eb2c2c"/><rect x="1540.2" y="1082.2" width="22.26" height="22.29" fill="#e82426"/><rect x="1562" y="1082.2" width="22.26" height="22.29" fill="#eb2b2b"/><rect x="1583.9" y="1082.2" width="22.26" height="22.29" fill="#eb2c2d"/><rect x="1605.8" y="1082.2" width="22.26" height="22.29" fill="#e92e2e"/><rect x="1627.6" y="1082.2" width="22.26" height="22.29" fill="#f3282a"/><rect x="1649.5" y="1082.2" width="22.26" height="22.29" fill="#ee2a2b"/><rect x="1671.3" y="1082.2" width="22.26" height="22.29" fill="#eb2c2c"/><rect x="1693.2" y="1082.2" width="22.26" height="22.29" fill="#eb2728"/><rect x="1715" y="1082.2" width="22.26" height="22.29" fill="#ed2628"/><rect x="1736.9" y="1082.2" width="22.26" height="22.29" fill="#ea2728"/><rect x="1758.8" y="1082.2" width="22.26" height="22.29" fill="#ec292a"/><rect x="1780.6" y="1082.2" width="22.26" height="22.29" fill="#ec2a2b"/><rect x="1802.5" y="1082.2" width="22.26" height="22.29" fill="#ec2829"/><rect x="1824.3" y="1082.2" width="22.26" height="22.29" fill="#ed292a"/><rect x="1846.2" y="1082.2" width="22.26" height="22.29" fill="#eb2123"/><rect x="1868" y="1082.2" width="21.86" height="22.29" fill="#ea2425"/><rect x="1430.9" y="1060.3" width="22.26" height="22.29" fill="#e82c2c"/><rect x="1452.8" y="1060.3" width="22.26" height="22.29" fill="#e92d2d"/><rect x="1474.6" y="1060.3" width="22.26" height="22.29" fill="#eb3635"/><rect x="1496.5" y="1060.3" width="22.26" height="22.29" fill="#ea2929"/><rect x="1518.3" y="1060.3" width="22.26" height="22.29" fill="#ed3635"/><rect x="1540.2" y="1060.3" width="22.26" height="22.29" fill="#e82d2e"/><rect x="1562" y="1060.3" width="22.26" height="22.29" fill="#ea2d2e"/><rect x="1583.9" y="1060.3" width="22.26" height="22.29" fill="#ec3c3b"/><rect x="1605.8" y="1060.3" width="22.26" height="22.29" fill="#eb3232"/><rect x="1627.6" y="1060.3" width="22.26" height="22.29" fill="#f03737"/><rect x="1649.5" y="1060.3" width="22.26" height="22.29" fill="#ed3838"/><rect x="1671.3" y="1060.3" width="22.26" height="22.29" fill="#eb3333"/><rect x="1693.2" y="1060.3" width="22.26" height="22.29" fill="#ea3939"/><rect x="1715" y="1060.3" width="22.26" height="22.29" fill="#ea3a39"/><rect x="1736.9" y="1060.3" width="22.26" height="22.29" fill="#e83837"/><rect x="1758.8" y="1060.3" width="22.26" height="22.29" fill="#ed3737"/><rect x="1780.6" y="1060.3" width="22.26" height="22.29" fill="#ec3f3e"/><rect x="1802.5" y="1060.3" width="22.26" height="22.29" fill="#ee3e3d"/><rect x="1824.3" y="1060.3" width="22.26" height="22.29" fill="#eb3c3b"/><rect x="1846.2" y="1060.3" width="22.26" height="22.29" fill="#ea3938"/><rect x="1868" y="1060.3" width="21.86" height="22.29" fill="#ef403f"/><rect x="1430.9" y="1038.5" width="22.26" height="22.29" fill="#ed6463"/><rect x="1452.8" y="1038.5" width="22.26" height="22.29" fill="#f46968"/><rect x="1474.6" y="1038.5" width="22.26" height="22.29" fill="#f16665"/><rect x="1496.5" y="1038.5" width="22.26" height="22.29" fill="#ee6c6c"/><rect x="1518.3" y="1038.5" width="22.26" height="22.29" fill="#f16f6e"/><rect x="1540.2" y="1038.5" width="22.26" height="22.29" fill="#f17a7a"/><rect x="1562" y="1038.5" width="22.26" height="22.29" fill="#f07473"/><rect x="1583.9" y="1038.5" width="22.26" height="22.29" fill="#ec8080"/><rect x="1605.8" y="1038.5" width="22.26" height="22.29" fill="#f18181"/><rect x="1627.6" y="1038.5" width="22.26" height="22.29" fill="#f18d8d"/><rect x="1649.5" y="1038.5" width="22.26" height="22.29" fill="#f59999"/><rect x="1671.3" y="1038.5" width="22.26" height="22.29" fill="#ef8a8a"/><rect x="1693.2" y="1038.5" width="22.26" height="22.29" fill="#f28787"/><rect x="1715" y="1038.5" width="22.26" height="22.29" fill="#f79696"/><rect x="1736.9" y="1038.5" width="22.26" height="22.29" fill="#f38a8a"/><rect x="1758.8" y="1038.5" width="22.26" height="22.29" fill="#f3a1a1"/><rect x="1780.6" y="1038.5" width="22.26" height="22.29" fill="#f29b9b"/><rect x="1802.5" y="1038.5" width="22.26" height="22.29" fill="#f5a4a4"/><rect x="1824.3" y="1038.5" width="22.26" height="22.29" fill="#f6a6a6"/><rect x="1846.2" y="1038.5" width="22.26" height="22.29" fill="#f7b6b6"/><rect x="1868" y="1038.5" width="21.86" height="22.29" fill="#f7b2b2"/><rect x="1430.9" y="1016.6" width="22.26" height="22.29" fill="#fcd3d3"/><rect x="1452.8" y="1016.6" width="22.26" height="22.29" fill="#fbe7e7"/><rect x="1474.6" y="1016.6" width="22.26" height="22.29" fill="#fee0e0"/><rect x="1496.5" y="1016.6" width="22.26" height="22.29" fill="#fef4f4"/><rect x="1518.3" y="1016.6" width="22.26" height="22.29" fill="#fdfafa"/><rect x="1540.2" y="1016.6" width="22.26" height="22.29" fill="#fafafc"/><rect x="1562" y="1016.6" width="22.26" height="22.29" fill="#ecf0f6"/><rect x="1583.9" y="1016.6" width="22.26" height="22.29" fill="#d1dbec"/><rect x="1605.8" y="1016.6" width="22.26" height="22.29" fill="#dae1f0"/><rect x="1627.6" y="1016.6" width="22.26" height="22.29" fill="#e3e9f3"/><rect x="1649.5" y="1016.6" width="22.26" height="22.29" fill="#d6dfee"/><rect x="1671.3" y="1016.6" width="22.26" height="22.29" fill="#e7eaf5"/><rect x="1693.2" y="1016.6" width="22.26" height="22.29" fill="#e1e7f2"/><rect x="1715" y="1016.6" width="22.26" height="22.29" fill="#d2dced"/><rect x="1736.9" y="1016.6" width="22.26" height="22.29" fill="#d1daed"/><rect x="1758.8" y="1016.6" width="22.26" height="22.29" fill="#cad5ea"/><rect x="1780.6" y="1016.6" width="22.26" height="22.29" fill="#d0d9ed"/><rect x="1802.5" y="1016.6" width="22.26" height="22.29" fill="#c1cee7"/><rect x="1824.3" y="1016.6" width="22.26" height="22.29" fill="#b7c7e3"/><rect x="1846.2" y="1016.6" width="22.26" height="22.29" fill="#a2b6da"/><rect x="1868" y="1016.6" width="21.86" height="22.29" fill="#b3c4e2"/><rect x="1430.9" y="994.7" width="22.26" height="22.29" fill="#9db2d8"/><rect x="1452.8" y="994.7" width="22.26" height="22.29" fill="#8fa6d2"/><rect x="1474.6" y="994.7" width="22.26" height="22.29" fill="#7995c8"/><rect x="1496.5" y="994.7" width="22.26" height="22.29" fill="#7b94c9"/><rect x="1518.3" y="994.7" width="22.26" height="22.29" fill="#7693c6"/><rect x="1540.2" y="994.7" width="22.26" height="22.29" fill="#728ec5"/><rect x="1562" y="994.7" width="22.26" height="22.29" fill="#6180bc"/><rect x="1583.9" y="994.7" width="22.26" height="22.29" fill="#6080bc"/><rect x="1605.8" y="994.7" width="22.26" height="22.29" fill="#5c7dba"/><rect x="1627.6" y="994.7" width="22.26" height="22.29" fill="#5579b7"/><rect x="1649.5" y="994.7" width="22.26" height="22.29" fill="#5476b6"/><rect x="1671.3" y="994.7" width="22.26" height="22.29" fill="#5475b6"/><rect x="1693.2" y="994.7" width="22.26" height="22.29" fill="#5174b5"/><rect x="1715" y="994.7" width="22.26" height="22.29" fill="#5576b6"/><rect x="1736.9" y="994.7" width="22.26" height="22.29" fill="#456aae"/><rect x="1758.8" y="994.7" width="22.26" height="22.29" fill="#3f65ac"/><rect x="1780.6" y="994.7" width="22.26" height="22.29" fill="#3a62a9"/><rect x="1802.5" y="994.7" width="22.26" height="22.29" fill="#3d64ab"/><rect x="1824.3" y="994.7" width="22.26" height="22.29" fill="#3f65ab"/><rect x="1846.2" y="994.7" width="22.26" height="22.29" fill="#3d64ab"/><rect x="1868" y="994.7" width="21.86" height="22.29" fill="#2f58a3"/><rect x="1430.9" y="972.8" width="22.26" height="22.29" fill="#315aa5"/><rect x="1452.8" y="972.8" width="22.26" height="22.29" fill="#375da7"/><rect x="1474.6" y="972.8" width="22.26" height="22.29" fill="#2b56a2"/><rect x="1496.5" y="972.8" width="22.26" height="22.29" fill="#3259a5"/><rect x="1518.3" y="972.8" width="22.26" height="22.29" fill="#3059a4"/><rect x="1540.2" y="972.8" width="22.26" height="22.29" fill="#2c56a2"/><rect x="1562" y="972.8" width="22.26" height="22.29" fill="#2c56a2"/><rect x="1583.9" y="972.8" width="22.26" height="22.29" fill="#2b55a1"/><rect x="1605.8" y="972.8" width="22.26" height="22.29" fill="#2954a0"/><rect x="1627.6" y="972.8" width="22.26" height="22.29" fill="#3158a4"/><rect x="1649.5" y="972.8" width="22.26" height="22.29" fill="#224e9d"/><rect x="1671.3" y="972.8" width="22.26" height="22.29" fill="#2a54a1"/><rect x="1693.2" y="972.8" width="22.26" height="22.29" fill="#28529f"/><rect x="1715" y="972.8" width="22.26" height="22.29" fill="#204e9c"/><rect x="1736.9" y="972.8" width="22.26" height="22.29" fill="#234e9d"/><rect x="1758.8" y="972.8" width="22.26" height="22.29" fill="#2e56a2"/><rect x="1780.6" y="972.8" width="22.26" height="22.29" fill="#25519e"/><rect x="1802.5" y="972.8" width="22.26" height="22.29" fill="#244f9d"/><rect x="1824.3" y="972.8" width="22.26" height="22.29" fill="#2953a0"/><rect x="1846.2" y="972.8" width="22.26" height="22.29" fill="#244f9d"/><rect x="1868" y="972.8" width="21.86" height="22.29" fill="#214d9c"/><rect x="1430.9" y="950.9" width="22.26" height="22.29" fill="#1d4a9a"/><rect x="1452.8" y="950.9" width="22.26" height="22.29" fill="#224c9c"/><rect x="1474.6" y="950.9" width="22.26" height="22.29" fill="#1c4797"/><rect x="1496.5" y="950.9" width="22.26" height="22.29" fill="#1d4a9a"/><rect x="1518.3" y="950.9" width="22.26" height="22.29" fill="#284496"/><rect x="1540.2" y="950.9" width="22.26" height="22.29" fill="#214d9c"/><rect x="1562" y="950.9" width="22.26" height="22.29" fill="#244c9c"/><rect x="1583.9" y="950.9" width="22.26" height="22.29" fill="#214495"/><rect x="1605.8" y="950.9" width="22.26" height="22.29" fill="#184797"/><rect x="1627.6" y="950.9" width="22.26" height="22.29" fill="#244898"/><rect x="1649.5" y="950.9" width="22.26" height="22.29" fill="#1f4b9b"/><rect x="1671.3" y="950.9" width="22.26" height="22.29" fill="#214a9b"/><rect x="1693.2" y="950.9" width="22.26" height="22.29" fill="#224d9c"/><rect x="1715" y="950.9" width="22.26" height="22.29" fill="#234e9d"/><rect x="1736.9" y="950.9" width="22.26" height="22.29" fill="#254f9e"/><rect x="1758.8" y="950.9" width="22.26" height="22.29" fill="#214999"/><rect x="1780.6" y="950.9" width="22.26" height="22.29" fill="#224898"/><rect x="1802.5" y="950.9" width="22.26" height="22.29" fill="#204b9b"/><rect x="1824.3" y="950.9" width="22.26" height="22.29" fill="#204d9b"/><rect x="1846.2" y="950.9" width="22.26" height="22.29" fill="#1f4b9b"/><rect x="1868" y="950.9" width="21.86" height="22.29" fill="#214c9c"/><rect x="1430.9" y="929" width="22.26" height="22.29" fill="#224d9c"/><rect x="1452.8" y="929" width="22.26" height="22.29" fill="#224d9c"/><rect x="1474.6" y="929" width="22.26" height="22.29" fill="#224d9c"/><rect x="1496.5" y="929" width="22.26" height="22.29" fill="#274798"/><rect x="1518.3" y="929" width="22.26" height="22.29" fill="#214c9c"/><rect x="1540.2" y="929" width="22.26" height="22.29" fill="#204798"/><rect x="1562" y="929" width="22.26" height="22.29" fill="#1d499a"/><rect x="1583.9" y="929" width="22.26" height="22.29" fill="#204b9b"/><rect x="1605.8" y="929" width="22.26" height="22.29" fill="#214c9c"/><rect x="1627.6" y="929" width="22.26" height="22.29" fill="#234293"/><rect x="1649.5" y="929" width="22.26" height="22.29" fill="#22499a"/><rect x="1671.3" y="929" width="22.26" height="22.29" fill="#214c9c"/><rect x="1693.2" y="929" width="22.26" height="22.29" fill="#214d9b"/><rect x="1715" y="929" width="22.26" height="22.29" fill="#1e4a9a"/><rect x="1736.9" y="929" width="22.26" height="22.29" fill="#244394"/><rect x="1758.8" y="929" width="22.26" height="22.29" fill="#1e4394"/><rect x="1780.6" y="929" width="22.26" height="22.29" fill="#224797"/><rect x="1802.5" y="929" width="22.26" height="22.29" fill="#244999"/><rect x="1824.3" y="929" width="22.26" height="22.29" fill="#274597"/><rect x="1846.2" y="929" width="22.26" height="22.29" fill="#1d4798"/><rect x="1868" y="929" width="21.86" height="22.29" fill="#224798"/></g>
<rect x="924.7" y="926.1" width="465.6" height="488.1" fill="none" stroke="#000" stroke-width="4.4"/>
<path d="M938.5 1414.2V1401.2M938.5 926.1V939.1M1084.5 1414.2V1401.2M1084.5 926.1V939.1M1230.5 1414.2V1401.2M1230.5 926.1V939.1M1376.5 1414.2V1401.2M1376.5 926.1V939.1M1011.5 1414.2V1406.6M1011.5 926.1V933.7M1157.5 1414.2V1406.6M1157.5 926.1V933.7M1303.5 1414.2V1406.6M1303.5 926.1V933.7M924.7 1401H937.7M1390.3 1401H1377.3M924.7 1254.8H937.7M1390.3 1254.8H1377.3M924.7 1108.6H937.7M1390.3 1108.6H1377.3M924.7 962.4H937.7M1390.3 962.4H1377.3M924.7 1327.9H932.3M1390.3 1327.9H1382.7M924.7 1181.7H932.3M1390.3 1181.7H1382.7M924.7 1035.5H932.3M1390.3 1035.5H1382.7" stroke="#000" stroke-width="4.0" fill="none"/>
<text transform="translate(938.5 1469.5) scale(1 1.041)" font-size="49.3" text-anchor="middle">0</text>
<text transform="translate(1084.5 1469.5) scale(1 1.041)" font-size="49.3" text-anchor="middle">2</text>
<text transform="translate(1230.5 1469.5) scale(1 1.041)" font-size="49.3" text-anchor="middle">4</text>
<text transform="translate(1376.5 1469.5) scale(1 1.041)" font-size="49.3" text-anchor="middle">6</text>
<rect x="1428.1" y="926.2" width="465.4" height="488" fill="none" stroke="#000" stroke-width="4.4"/>
<path d="M1442 1414.2V1401.2M1442 926.2V939.2M1588 1414.2V1401.2M1588 926.2V939.2M1734 1414.2V1401.2M1734 926.2V939.2M1880 1414.2V1401.2M1880 926.2V939.2M1515 1414.2V1406.6M1515 926.2V933.8M1661 1414.2V1406.6M1661 926.2V933.8M1807 1414.2V1406.6M1807 926.2V933.8M1428.1 1401H1441.1M1893.5 1401H1880.5M1428.1 1254.8H1441.1M1893.5 1254.8H1880.5M1428.1 1108.6H1441.1M1893.5 1108.6H1880.5M1428.1 962.4H1441.1M1893.5 962.4H1880.5M1428.1 1327.9H1435.7M1893.5 1327.9H1885.9M1428.1 1181.7H1435.7M1893.5 1181.7H1885.9M1428.1 1035.5H1435.7M1893.5 1035.5H1885.9" stroke="#000" stroke-width="4.0" fill="none"/>
<text transform="translate(1442 1469.5) scale(1 1.041)" font-size="49.3" text-anchor="middle">0</text>
<text transform="translate(1588 1469.5) scale(1 1.041)" font-size="49.3" text-anchor="middle">2</text>
<text transform="translate(1734 1469.5) scale(1 1.041)" font-size="49.3" text-anchor="middle">4</text>
<text transform="translate(1880 1469.5) scale(1 1.041)" font-size="49.3" text-anchor="middle">6</text>
<text transform="translate(916.2 1418.7) scale(1 1.041)" font-size="49.3" text-anchor="end">0</text>
<text transform="translate(916.2 1272.5) scale(1 1.041)" font-size="49.3" text-anchor="end">2</text>
<text transform="translate(916.2 1126.3) scale(1 1.041)" font-size="49.3" text-anchor="end">4</text>
<text transform="translate(916.2 980.1) scale(1 1.041)" font-size="49.3" text-anchor="end">6</text>
<text transform="translate(1002 1535.4) scale(1 1.041)" font-size="49.9">Distance (µm)</text>
<text transform="translate(1506.1 1535.3) scale(1 1.041)" font-size="49.6">Distance (µm)</text>
<text transform="translate(828.3 1313.7) rotate(-90) scale(1 1.041)" font-size="49.6">Distance (µm)</text>
<rect x="1907.1" y="929.5" width="12.6" height="472.6" fill="url(#cbRaman)" stroke="#000" stroke-width="1.8"/>
<path d="M1919.7 930.7H1924.3M1919.7 1048.2H1924.3M1919.7 1165.8H1924.3M1919.7 1283.3H1924.3M1919.7 1400.9H1924.3" stroke="#000" stroke-width="1.6"/>
<text transform="translate(1974.8 941.1) scale(1 1.041)" font-size="29" text-anchor="end">1.0</text>
<text transform="translate(1974.8 1058.6) scale(1 1.041)" font-size="29" text-anchor="end">0.5</text>
<text transform="translate(1974.8 1176.2) scale(1 1.041)" font-size="29" text-anchor="end">0.0</text>
<text transform="translate(1974.8 1293.7) scale(1 1.041)" font-size="29" text-anchor="end">-0.5</text>
<text transform="translate(1974.8 1411.3) scale(1 1.041)" font-size="29" text-anchor="end">-1.0</text>
<text transform="translate(2004.4 942.7) rotate(90) scale(1 1.041)" font-size="41.8">Normalized Intensity (%)</text>
</svg></body></html>
